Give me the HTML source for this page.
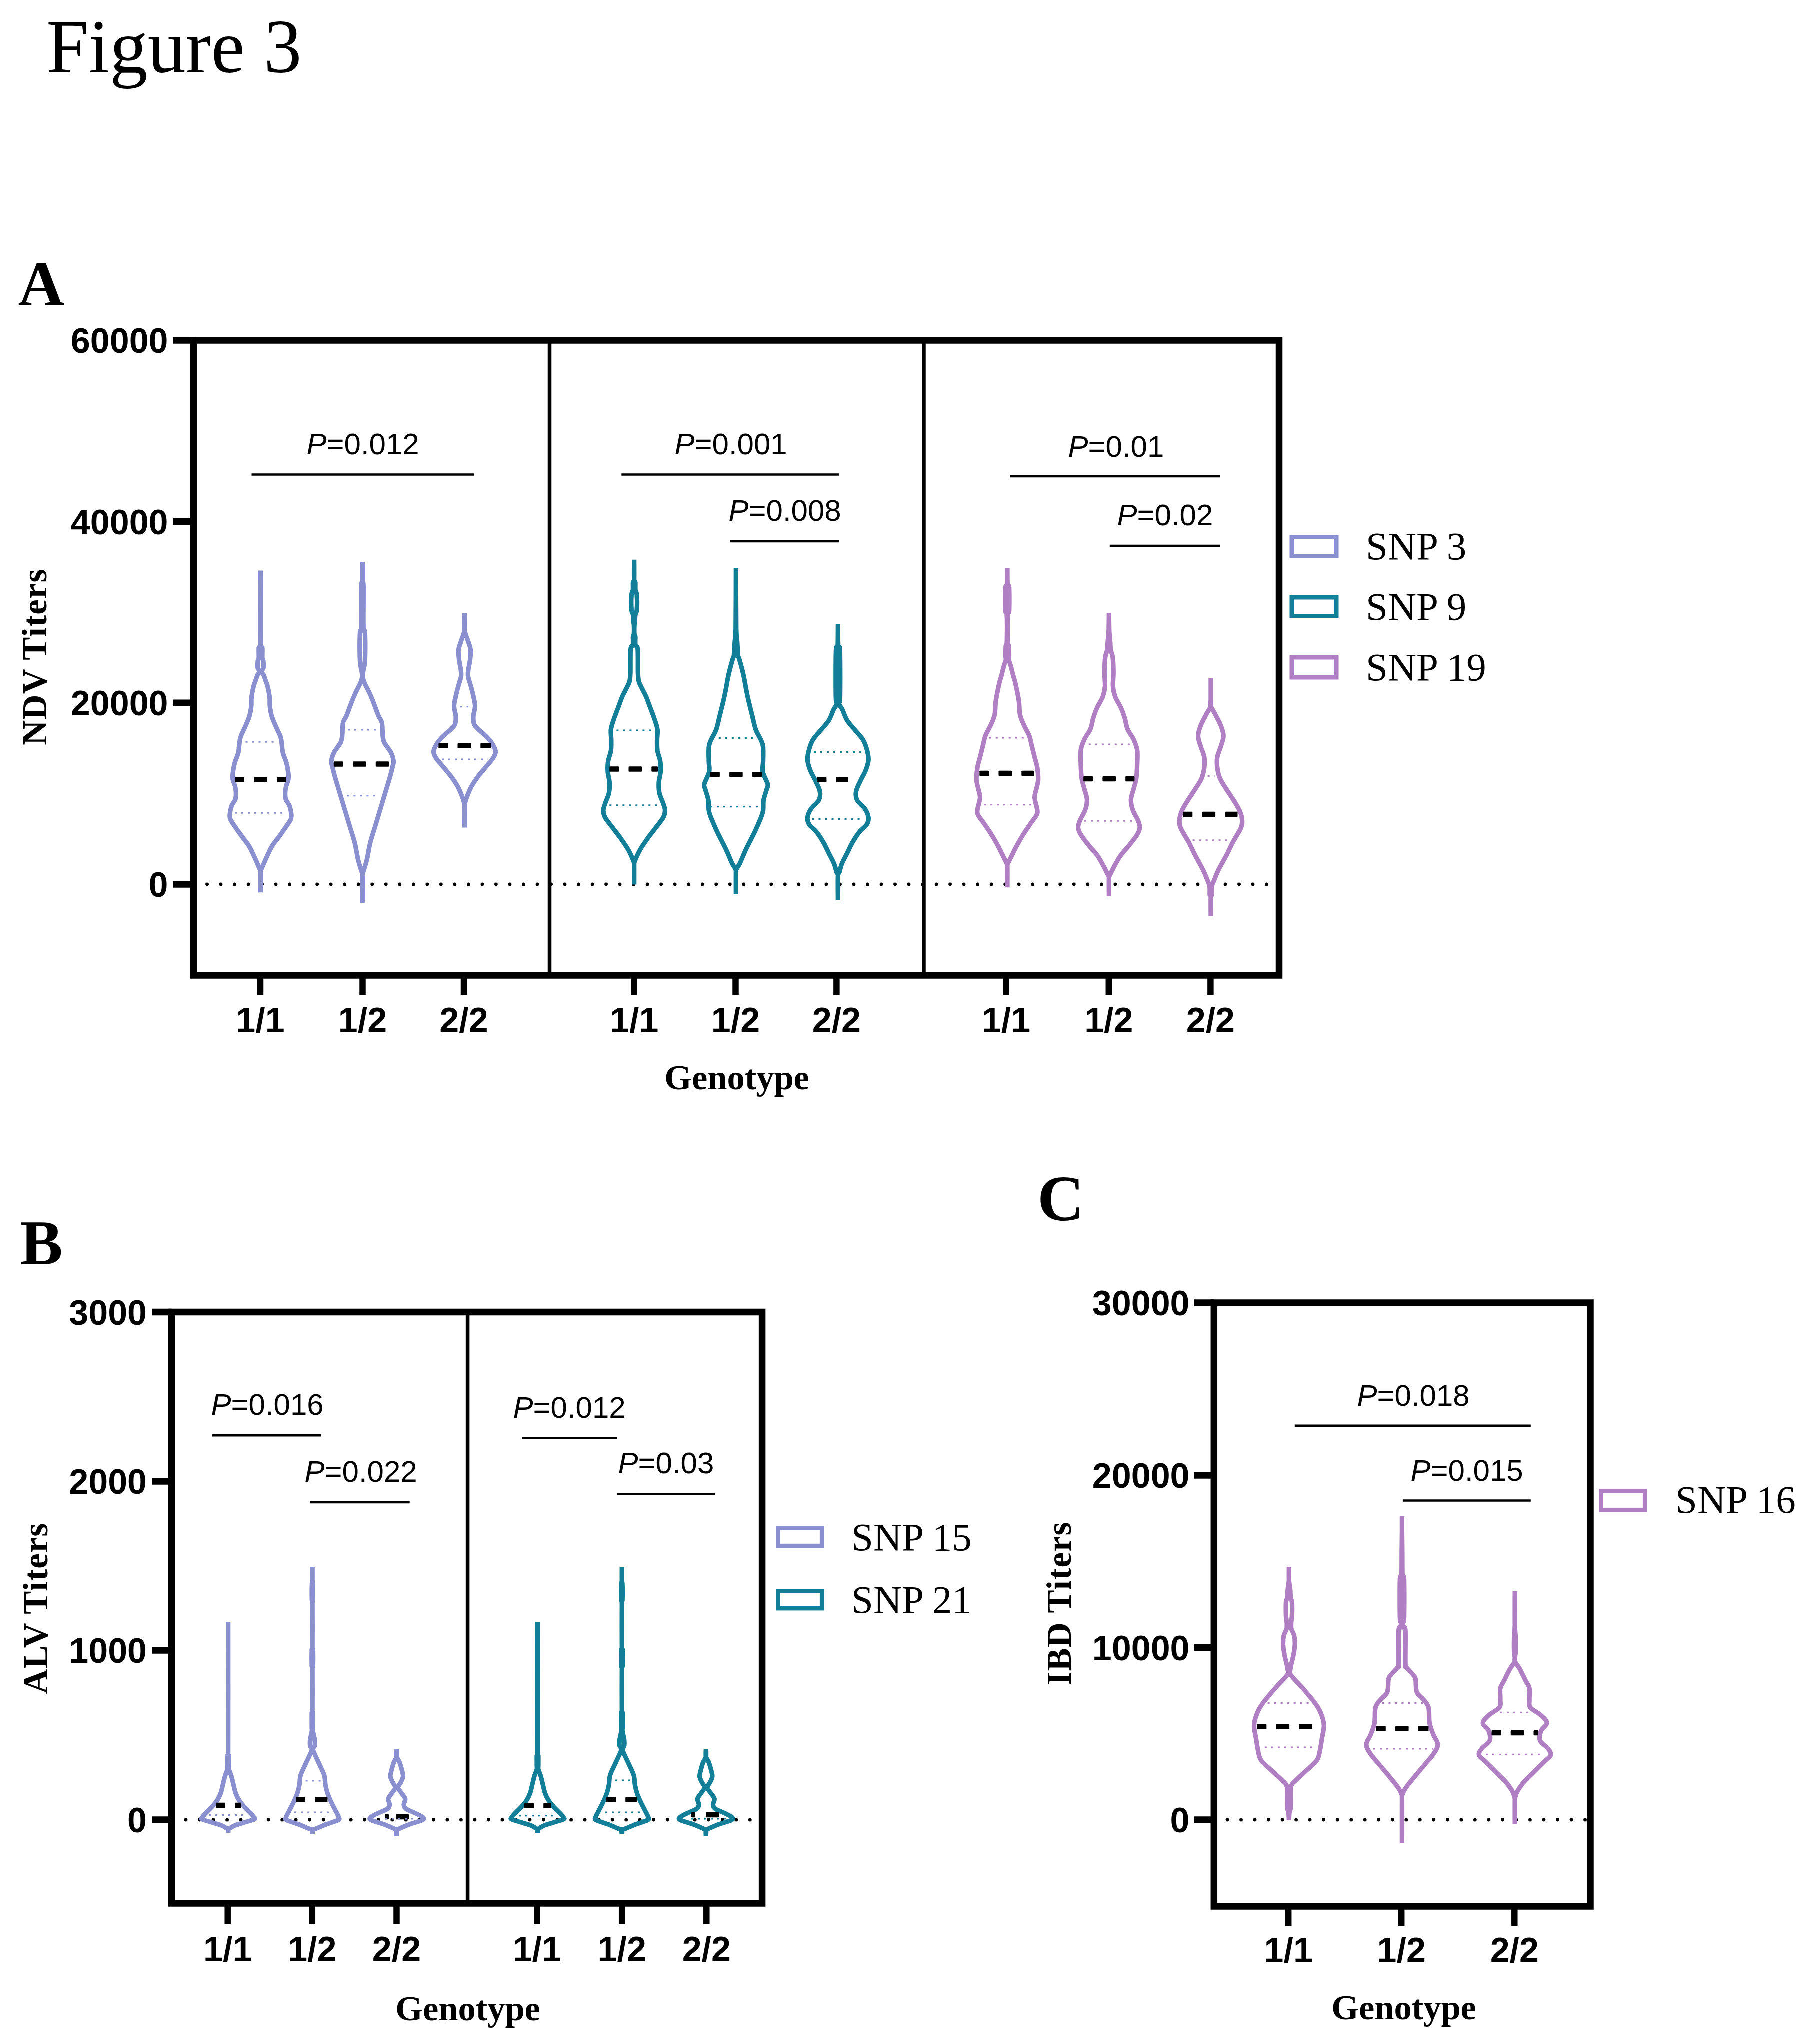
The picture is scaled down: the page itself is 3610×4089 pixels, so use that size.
<!DOCTYPE html>
<html><head><meta charset="utf-8"><title>Figure 3</title>
<style>
html,body{margin:0;padding:0;background:#fff;}
body{width:3610px;height:4089px;overflow:hidden;font-family:"Liberation Sans", sans-serif;}
svg{display:block;}
</style></head>
<body>
<svg width="3610" height="4089" viewBox="0 0 3610 4089">
<rect x="0" y="0" width="3610" height="4089" fill="#fff"/>
<text x="93" y="145" font-family="'Liberation Serif', serif" font-size="152" font-weight="normal" text-anchor="start" >Figure 3</text>
<text x="36.5" y="611" font-family="'Liberation Serif', serif" font-size="128" font-weight="bold" text-anchor="start" >A</text>
<text x="40.5" y="2529" font-family="'Liberation Serif', serif" font-size="128" font-weight="bold" text-anchor="start" >B</text>
<text x="2075" y="2441" font-family="'Liberation Serif', serif" font-size="130" font-weight="bold" text-anchor="start" >C</text>
<line x1="414.5" y1="1769" x2="2540" y2="1769" stroke="#000" stroke-width="6.8" stroke-linecap="round" stroke-dasharray="0.01 27.509999999999998"/>
<path d="M521.5,1141.6 C521.5,1166.5 520.9,1265.3 521.5,1291.0 C522.1,1316.7 524.4,1291.8 525.0,1296.0 C525.6,1300.2 524.7,1311.7 525.0,1316.0 C525.3,1320.3 526.7,1318.5 527.0,1322.0 C527.3,1325.5 527.8,1333.5 527.0,1337.0 C526.2,1340.5 522.4,1340.8 522.5,1343.0 C522.6,1345.2 526.1,1347.2 527.5,1350.0 C528.9,1352.8 529.7,1356.2 531.0,1360.0 C532.3,1363.8 534.1,1367.1 535.5,1372.8 C536.9,1378.5 538.7,1387.3 539.5,1394.0 C540.3,1400.7 539.4,1406.3 540.1,1412.7 C540.8,1419.1 541.8,1425.9 543.8,1432.6 C545.8,1439.2 548.9,1445.9 551.8,1452.6 C554.6,1459.2 558.9,1467.0 560.9,1472.5 C562.9,1478.0 562.8,1480.4 563.7,1485.9 C564.6,1491.5 564.5,1499.2 566.1,1505.8 C567.7,1512.4 571.3,1519.1 573.1,1525.8 C574.9,1532.5 576.2,1540.2 576.9,1545.7 C577.6,1551.2 577.8,1554.6 577.1,1559.0 C576.4,1563.4 573.8,1567.9 572.7,1572.3 C571.6,1576.7 570.8,1581.1 570.7,1585.6 C570.6,1590.0 570.5,1594.6 572.0,1599.0 C573.5,1603.4 577.7,1607.2 579.5,1612.2 C581.3,1617.2 582.6,1624.5 583.0,1628.9 C583.4,1633.3 583.5,1634.9 582.0,1638.8 C580.5,1642.7 577.4,1646.6 573.7,1652.1 C570.0,1657.6 564.5,1665.3 559.7,1672.0 C554.9,1678.7 548.9,1685.3 544.8,1692.0 C540.6,1698.7 537.7,1705.9 534.8,1712.0 C531.9,1718.1 529.4,1724.2 527.5,1728.6 C525.6,1733.0 524.2,1735.9 523.2,1738.6 C522.2,1741.3 521.8,1737.2 521.5,1745.0 C521.2,1752.8 521.5,1778.5 521.5,1785.2 C521.5,1778.5 521.8,1752.8 521.5,1745.0 C521.2,1737.2 520.8,1741.3 519.8,1738.6 C518.8,1735.9 517.4,1733.0 515.5,1728.6 C513.6,1724.2 511.1,1718.1 508.2,1712.0 C505.3,1705.9 502.3,1698.7 498.2,1692.0 C494.1,1685.3 488.1,1678.7 483.3,1672.0 C478.5,1665.3 473.0,1657.6 469.3,1652.1 C465.6,1646.6 462.6,1642.7 461.0,1638.8 C459.4,1634.9 459.6,1633.3 460.0,1628.9 C460.4,1624.5 461.7,1617.2 463.5,1612.2 C465.3,1607.2 469.5,1603.4 471.0,1599.0 C472.5,1594.6 472.4,1590.0 472.3,1585.6 C472.2,1581.1 471.4,1576.7 470.3,1572.3 C469.2,1567.9 466.6,1563.4 465.9,1559.0 C465.2,1554.6 465.4,1551.2 466.1,1545.7 C466.8,1540.2 468.1,1532.5 469.9,1525.8 C471.7,1519.1 475.3,1512.4 476.9,1505.8 C478.5,1499.2 478.4,1491.5 479.3,1485.9 C480.2,1480.4 480.1,1478.0 482.1,1472.5 C484.1,1467.0 488.4,1459.2 491.2,1452.6 C494.0,1445.9 497.2,1439.2 499.2,1432.6 C501.1,1425.9 502.2,1419.1 502.9,1412.7 C503.6,1406.3 502.7,1400.7 503.5,1394.0 C504.3,1387.3 506.1,1378.5 507.5,1372.8 C508.9,1367.1 510.7,1363.8 512.0,1360.0 C513.3,1356.2 514.1,1352.8 515.5,1350.0 C516.9,1347.2 520.4,1345.2 520.5,1343.0 C520.6,1340.8 516.8,1340.5 516.0,1337.0 C515.2,1333.5 515.7,1325.5 516.0,1322.0 C516.3,1318.5 517.7,1320.3 518.0,1316.0 C518.3,1311.7 517.4,1300.2 518.0,1296.0 C518.6,1291.8 520.9,1316.7 521.5,1291.0 C522.1,1265.3 521.5,1166.5 521.5,1141.6 Z" fill="none" stroke="#898fcf" stroke-width="9.2" stroke-linejoin="bevel"/>
<rect x="470.0" y="1554.45" width="19.0" height="10.5" rx="1.5" fill="#000"/>
<rect x="508.2" y="1554.45" width="26.6" height="10.5" rx="1.5" fill="#000"/>
<rect x="554.0" y="1554.45" width="19.0" height="10.5" rx="1.5" fill="#000"/>
<line x1="491.5" y1="1484.2" x2="553" y2="1484.2" stroke="#898fcf" stroke-width="3.2" stroke-dasharray="4 9"/>
<line x1="470" y1="1626.2" x2="573" y2="1626.2" stroke="#898fcf" stroke-width="3.2" stroke-dasharray="4 9"/>
<path d="M725.3,1125.0 C725.3,1131.7 725.0,1157.2 725.3,1165.0 C725.6,1172.8 727.0,1157.0 727.3,1172.0 C727.6,1187.0 726.8,1239.3 727.3,1255.0 C727.8,1270.7 729.8,1254.8 730.3,1266.0 C730.8,1277.2 730.8,1309.7 730.3,1322.0 C729.8,1334.3 728.0,1334.8 727.3,1340.0 C726.5,1345.2 725.5,1348.7 725.8,1353.0 C726.1,1357.3 727.0,1360.6 729.3,1366.1 C731.5,1371.6 736.2,1379.4 739.3,1386.1 C742.3,1392.8 744.5,1398.2 747.6,1406.0 C750.6,1413.8 754.8,1425.9 757.6,1432.6 C760.4,1439.2 762.8,1439.2 764.2,1445.9 C765.6,1452.6 765.1,1465.8 765.9,1472.5 C766.7,1479.2 766.4,1480.4 769.2,1485.9 C772.0,1491.5 779.5,1499.7 782.5,1505.8 C785.5,1511.9 787.0,1518.0 787.5,1522.4 C788.0,1526.8 786.9,1527.4 785.8,1532.4 C784.7,1537.4 783.3,1543.5 780.8,1552.4 C778.3,1561.3 774.2,1574.5 770.9,1585.6 C767.6,1596.7 764.2,1607.8 760.9,1618.9 C757.6,1630.0 754.2,1641.1 750.9,1652.2 C747.6,1663.3 743.7,1674.3 740.9,1685.4 C738.1,1696.5 736.5,1709.3 734.3,1718.7 C732.1,1728.1 729.1,1736.4 727.6,1741.9 C726.1,1747.4 725.7,1741.1 725.3,1751.9 C724.9,1762.8 725.3,1797.8 725.3,1807.0 C725.3,1797.8 725.7,1762.8 725.3,1751.9 C724.9,1741.1 724.5,1747.4 723.0,1741.9 C721.5,1736.4 718.5,1728.1 716.3,1718.7 C714.1,1709.3 712.5,1696.5 709.7,1685.4 C706.9,1674.3 703.0,1663.3 699.7,1652.2 C696.4,1641.1 693.0,1630.0 689.7,1618.9 C686.4,1607.8 683.0,1596.7 679.7,1585.6 C676.4,1574.5 672.3,1561.3 669.8,1552.4 C667.3,1543.5 665.9,1537.4 664.8,1532.4 C663.7,1527.4 662.5,1526.8 663.1,1522.4 C663.6,1518.0 665.0,1511.9 668.1,1505.8 C671.1,1499.7 678.6,1491.5 681.4,1485.9 C684.2,1480.4 683.9,1479.2 684.7,1472.5 C685.5,1465.8 685.0,1452.6 686.4,1445.9 C687.8,1439.2 690.2,1439.2 693.0,1432.6 C695.8,1425.9 700.0,1413.8 703.0,1406.0 C706.0,1398.2 708.2,1392.8 711.3,1386.1 C714.3,1379.4 719.0,1371.6 721.3,1366.1 C723.5,1360.6 724.5,1357.3 724.8,1353.0 C725.1,1348.7 724.0,1345.2 723.3,1340.0 C722.5,1334.8 720.8,1334.3 720.3,1322.0 C719.8,1309.7 719.8,1277.2 720.3,1266.0 C720.8,1254.8 722.8,1270.7 723.3,1255.0 C723.8,1239.3 723.0,1187.0 723.3,1172.0 C723.6,1157.0 725.0,1172.8 725.3,1165.0 C725.6,1157.2 725.3,1131.7 725.3,1125.0 Z" fill="none" stroke="#898fcf" stroke-width="9.2" stroke-linejoin="bevel"/>
<rect x="667.8" y="1523.15" width="19.0" height="10.5" rx="1.5" fill="#000"/>
<rect x="706.0" y="1523.15" width="26.6" height="10.5" rx="1.5" fill="#000"/>
<rect x="751.8" y="1523.15" width="26.6" height="10.5" rx="1.5" fill="#000"/>
<line x1="696" y1="1459.9" x2="759" y2="1459.9" stroke="#898fcf" stroke-width="3.2" stroke-dasharray="4 9"/>
<line x1="694.4" y1="1591.6" x2="756" y2="1591.6" stroke="#898fcf" stroke-width="3.2" stroke-dasharray="4 9"/>
<path d="M929.5,1226.4 C929.5,1232.0 928.5,1250.8 929.5,1259.7 C930.5,1268.6 933.5,1272.9 935.5,1279.6 C937.5,1286.2 940.7,1292.9 941.5,1299.6 C942.3,1306.3 941.2,1312.9 940.5,1319.6 C939.8,1326.2 937.8,1334.0 937.1,1339.5 C936.4,1345.0 935.7,1347.2 936.5,1352.8 C937.3,1358.3 940.3,1366.1 942.1,1372.8 C943.9,1379.5 945.7,1386.0 947.1,1392.7 C948.5,1399.4 950.5,1406.1 950.5,1412.7 C950.5,1419.3 947.4,1426.5 947.1,1432.6 C946.8,1438.7 947.1,1444.9 948.8,1449.3 C950.5,1453.7 953.2,1455.3 957.1,1459.2 C961.0,1463.1 967.7,1468.0 972.1,1472.5 C976.5,1477.0 980.5,1480.9 983.7,1485.9 C986.9,1490.9 990.9,1497.5 991.4,1502.5 C991.9,1507.5 990.0,1510.8 987.0,1515.8 C984.0,1520.8 978.7,1526.3 973.7,1532.4 C968.7,1538.5 962.1,1545.8 957.1,1552.4 C952.1,1559.1 947.5,1565.7 943.8,1572.3 C940.1,1578.9 937.0,1586.8 934.8,1592.3 C932.6,1597.8 931.4,1602.3 930.5,1605.6 C929.6,1608.9 929.7,1603.7 929.5,1612.0 C929.3,1620.3 929.5,1648.2 929.5,1655.5 C929.5,1648.2 929.7,1620.3 929.5,1612.0 C929.3,1603.7 929.4,1608.9 928.5,1605.6 C927.6,1602.3 926.4,1597.8 924.2,1592.3 C922.0,1586.8 918.9,1578.9 915.2,1572.3 C911.5,1565.7 906.9,1559.1 901.9,1552.4 C896.9,1545.8 890.3,1538.5 885.3,1532.4 C880.3,1526.3 875.0,1520.8 872.0,1515.8 C869.0,1510.8 867.1,1507.5 867.6,1502.5 C868.1,1497.5 872.1,1490.9 875.3,1485.9 C878.5,1480.9 882.5,1477.0 886.9,1472.5 C891.3,1468.0 898.0,1463.1 901.9,1459.2 C905.8,1455.3 908.5,1453.7 910.2,1449.3 C911.9,1444.9 912.2,1438.7 911.9,1432.6 C911.6,1426.5 908.5,1419.3 908.5,1412.7 C908.5,1406.1 910.5,1399.4 911.9,1392.7 C913.3,1386.0 915.1,1379.5 916.9,1372.8 C918.7,1366.1 921.7,1358.3 922.5,1352.8 C923.3,1347.2 922.6,1345.0 921.9,1339.5 C921.2,1334.0 919.2,1326.2 918.5,1319.6 C917.8,1312.9 916.7,1306.3 917.5,1299.6 C918.3,1292.9 921.5,1286.2 923.5,1279.6 C925.5,1272.9 928.5,1268.6 929.5,1259.7 C930.5,1250.8 929.5,1232.0 929.5,1226.4 Z" fill="none" stroke="#898fcf" stroke-width="9.2" stroke-linejoin="bevel"/>
<rect x="877.3" y="1486.55" width="19.0" height="10.5" rx="1.5" fill="#000"/>
<rect x="915.5" y="1486.55" width="26.6" height="10.5" rx="1.5" fill="#000"/>
<rect x="961.3" y="1486.55" width="20.8" height="10.5" rx="1.5" fill="#000"/>
<line x1="920.5" y1="1413.7" x2="937" y2="1413.7" stroke="#898fcf" stroke-width="3.2" stroke-dasharray="4 9"/>
<line x1="884" y1="1519" x2="975.4" y2="1519" stroke="#898fcf" stroke-width="3.2" stroke-dasharray="4 9"/>
<path d="M1268.7,1119.8 C1268.7,1126.2 1268.3,1150.5 1268.7,1158.0 C1269.1,1165.5 1270.6,1161.3 1271.0,1165.0 C1271.4,1168.7 1270.7,1175.8 1271.2,1180.0 C1271.7,1184.2 1273.5,1183.3 1274.0,1190.0 C1274.5,1196.7 1274.5,1213.3 1274.0,1220.0 C1273.5,1226.7 1271.6,1226.0 1271.0,1230.0 C1270.4,1234.0 1270.5,1240.7 1270.2,1244.0 C1269.9,1247.3 1269.4,1246.0 1269.2,1250.0 C1269.0,1254.0 1268.9,1264.0 1269.2,1268.0 C1269.5,1272.0 1270.7,1270.3 1271.0,1274.0 C1271.3,1277.7 1270.4,1286.0 1271.2,1290.0 C1272.0,1294.0 1274.9,1289.7 1275.7,1298.0 C1276.5,1306.3 1276.1,1331.3 1276.2,1340.0 C1276.3,1348.7 1276.2,1346.0 1276.5,1350.0 C1276.8,1354.0 1276.5,1358.7 1278.2,1364.0 C1279.9,1369.3 1284.3,1376.9 1286.7,1381.9 C1289.1,1386.9 1290.7,1389.3 1292.7,1394.0 C1294.7,1398.7 1296.0,1402.6 1298.7,1410.0 C1301.5,1417.4 1306.5,1430.0 1309.2,1438.2 C1312.0,1446.4 1314.3,1452.4 1315.2,1459.4 C1316.1,1466.5 1314.5,1473.5 1314.5,1480.5 C1314.5,1487.5 1314.2,1494.5 1315.2,1501.6 C1316.2,1508.6 1319.8,1515.8 1320.8,1522.8 C1321.8,1529.8 1322.0,1536.9 1321.5,1543.9 C1321.0,1551.0 1318.4,1558.0 1318.0,1565.1 C1317.6,1572.1 1317.6,1579.2 1319.1,1586.2 C1320.6,1593.2 1324.9,1601.4 1326.8,1607.3 C1328.7,1613.2 1330.4,1616.7 1330.4,1621.4 C1330.4,1626.1 1330.0,1629.6 1326.8,1635.5 C1323.6,1641.4 1316.3,1649.7 1311.0,1656.7 C1305.7,1663.8 1300.1,1670.8 1295.1,1677.8 C1290.1,1684.8 1284.5,1693.1 1281.0,1699.0 C1277.5,1704.9 1275.9,1708.9 1274.0,1713.0 C1272.1,1717.1 1270.6,1720.8 1269.7,1723.6 C1268.8,1726.4 1268.9,1722.4 1268.7,1730.0 C1268.5,1737.6 1268.7,1762.8 1268.7,1769.4 C1268.7,1762.8 1268.9,1737.6 1268.7,1730.0 C1268.5,1722.4 1268.6,1726.4 1267.7,1723.6 C1266.8,1720.8 1265.3,1717.1 1263.4,1713.0 C1261.5,1708.9 1259.9,1704.9 1256.4,1699.0 C1252.9,1693.1 1247.3,1684.8 1242.3,1677.8 C1237.3,1670.8 1231.7,1663.8 1226.4,1656.7 C1221.1,1649.7 1213.8,1641.4 1210.6,1635.5 C1207.4,1629.6 1207.0,1626.1 1207.0,1621.4 C1207.0,1616.7 1208.7,1613.2 1210.6,1607.3 C1212.5,1601.4 1216.8,1593.2 1218.3,1586.2 C1219.8,1579.2 1219.8,1572.1 1219.4,1565.1 C1219.0,1558.0 1216.4,1551.0 1215.9,1543.9 C1215.4,1536.9 1215.6,1529.8 1216.6,1522.8 C1217.7,1515.8 1221.2,1508.6 1222.2,1501.6 C1223.2,1494.5 1222.9,1487.5 1222.9,1480.5 C1222.9,1473.5 1221.3,1466.5 1222.2,1459.4 C1223.1,1452.4 1225.5,1446.4 1228.2,1438.2 C1231.0,1430.0 1236.0,1417.4 1238.7,1410.0 C1241.5,1402.6 1242.7,1398.7 1244.7,1394.0 C1246.7,1389.3 1248.3,1386.9 1250.7,1381.9 C1253.1,1376.9 1257.5,1369.3 1259.2,1364.0 C1260.9,1358.7 1260.6,1354.0 1260.9,1350.0 C1261.2,1346.0 1261.1,1348.7 1261.2,1340.0 C1261.3,1331.3 1260.9,1306.3 1261.7,1298.0 C1262.5,1289.7 1265.4,1294.0 1266.2,1290.0 C1267.0,1286.0 1266.1,1277.7 1266.4,1274.0 C1266.7,1270.3 1267.9,1272.0 1268.2,1268.0 C1268.5,1264.0 1268.4,1254.0 1268.2,1250.0 C1268.0,1246.0 1267.5,1247.3 1267.2,1244.0 C1266.9,1240.7 1267.0,1234.0 1266.4,1230.0 C1265.8,1226.0 1263.9,1226.7 1263.4,1220.0 C1262.9,1213.3 1262.9,1196.7 1263.4,1190.0 C1263.9,1183.3 1265.7,1184.2 1266.2,1180.0 C1266.7,1175.8 1266.0,1168.7 1266.4,1165.0 C1266.8,1161.3 1268.3,1165.5 1268.7,1158.0 C1269.1,1150.5 1268.7,1126.2 1268.7,1119.8 Z" fill="none" stroke="#137e97" stroke-width="9.2" stroke-linejoin="bevel"/>
<rect x="1219.3" y="1533.35" width="19.0" height="10.5" rx="1.5" fill="#000"/>
<rect x="1257.5" y="1533.35" width="26.6" height="10.5" rx="1.5" fill="#000"/>
<rect x="1303.3" y="1533.35" width="12.9" height="10.5" rx="1.5" fill="#000"/>
<line x1="1233.4" y1="1461.1" x2="1305.6" y2="1461.1" stroke="#137e97" stroke-width="3.2" stroke-dasharray="4 9"/>
<line x1="1219.3" y1="1610.9" x2="1321.5" y2="1610.9" stroke="#137e97" stroke-width="3.2" stroke-dasharray="4 9"/>
<path d="M1472.3,1137.0 C1472.4,1156.7 1472.4,1230.3 1472.8,1255.0 C1473.2,1279.7 1474.3,1276.7 1474.8,1285.0 C1475.3,1293.3 1475.7,1300.5 1476.0,1305.0 C1476.3,1309.5 1476.0,1309.6 1476.5,1312.0 C1477.0,1314.4 1477.7,1314.7 1479.1,1319.4 C1480.5,1324.1 1483.1,1333.3 1484.8,1340.0 C1486.5,1346.7 1487.8,1352.6 1489.1,1359.3 C1490.4,1366.0 1491.4,1372.7 1492.8,1380.0 C1494.2,1387.3 1495.7,1394.5 1497.7,1403.0 C1499.7,1411.5 1502.4,1421.8 1504.7,1431.2 C1507.0,1440.6 1508.9,1451.2 1511.8,1459.4 C1514.7,1467.6 1519.8,1474.6 1522.3,1480.5 C1524.8,1486.4 1525.9,1487.5 1526.6,1494.6 C1527.3,1501.6 1526.7,1514.6 1526.6,1522.8 C1526.5,1531.0 1524.4,1536.3 1525.9,1543.9 C1527.4,1551.5 1534.4,1562.7 1535.7,1568.6 C1537.0,1574.5 1534.9,1573.9 1533.6,1579.2 C1532.2,1584.5 1528.8,1593.3 1527.6,1600.3 C1526.4,1607.3 1527.5,1615.5 1526.6,1621.4 C1525.7,1627.3 1525.1,1628.5 1522.3,1635.5 C1519.5,1642.5 1515.0,1653.1 1510.0,1663.7 C1505.0,1674.3 1497.3,1688.4 1492.3,1699.0 C1487.3,1709.6 1483.2,1720.6 1480.1,1727.1 C1477.0,1733.5 1475.0,1734.7 1473.7,1737.7 C1472.4,1740.7 1472.5,1736.5 1472.3,1745.0 C1472.1,1753.5 1472.3,1781.5 1472.3,1788.8 C1472.3,1781.5 1472.5,1753.5 1472.3,1745.0 C1472.1,1736.5 1472.2,1740.7 1470.9,1737.7 C1469.6,1734.7 1467.6,1733.5 1464.5,1727.1 C1461.4,1720.6 1457.3,1709.6 1452.3,1699.0 C1447.3,1688.4 1439.6,1674.3 1434.6,1663.7 C1429.6,1653.1 1425.1,1642.5 1422.3,1635.5 C1419.5,1628.5 1418.9,1627.3 1418.0,1621.4 C1417.1,1615.5 1418.2,1607.3 1417.0,1600.3 C1415.8,1593.3 1412.3,1584.5 1411.0,1579.2 C1409.7,1573.9 1407.6,1574.5 1408.9,1568.6 C1410.2,1562.7 1417.2,1551.5 1418.7,1543.9 C1420.2,1536.3 1418.1,1531.0 1418.0,1522.8 C1417.9,1514.6 1417.3,1501.6 1418.0,1494.6 C1418.7,1487.5 1419.8,1486.4 1422.3,1480.5 C1424.8,1474.6 1429.9,1467.6 1432.8,1459.4 C1435.7,1451.2 1437.5,1440.6 1439.9,1431.2 C1442.2,1421.8 1444.9,1411.5 1446.9,1403.0 C1448.9,1394.5 1450.4,1387.3 1451.8,1380.0 C1453.2,1372.7 1454.2,1366.0 1455.5,1359.3 C1456.8,1352.6 1458.1,1346.7 1459.8,1340.0 C1461.5,1333.3 1464.1,1324.1 1465.5,1319.4 C1466.9,1314.7 1467.6,1314.4 1468.1,1312.0 C1468.6,1309.6 1468.3,1309.5 1468.6,1305.0 C1468.9,1300.5 1469.3,1293.3 1469.8,1285.0 C1470.3,1276.7 1471.4,1279.7 1471.8,1255.0 C1472.2,1230.3 1472.2,1156.7 1472.3,1137.0 Z" fill="none" stroke="#137e97" stroke-width="9.2" stroke-linejoin="bevel"/>
<rect x="1420.9" y="1543.95" width="19.0" height="10.5" rx="1.5" fill="#000"/>
<rect x="1459.1" y="1543.95" width="26.6" height="10.5" rx="1.5" fill="#000"/>
<rect x="1504.9" y="1543.95" width="19.2" height="10.5" rx="1.5" fill="#000"/>
<line x1="1437.8" y1="1476.3" x2="1511.8" y2="1476.3" stroke="#137e97" stroke-width="3.2" stroke-dasharray="4 9"/>
<line x1="1420.9" y1="1613.7" x2="1517" y2="1613.7" stroke="#137e97" stroke-width="3.2" stroke-dasharray="4 9"/>
<path d="M1676.3,1248.6 C1676.4,1256.0 1676.2,1284.1 1676.9,1293.0 C1677.6,1301.9 1679.7,1285.0 1680.3,1302.0 C1680.9,1319.0 1680.9,1377.5 1680.5,1395.0 C1680.1,1412.5 1677.1,1403.0 1677.8,1407.0 C1678.5,1411.0 1681.9,1413.2 1684.8,1419.0 C1687.7,1424.8 1690.4,1434.5 1695.0,1441.8 C1699.6,1449.1 1707.3,1456.5 1712.6,1462.9 C1717.9,1469.4 1723.2,1474.6 1726.7,1480.5 C1730.2,1486.4 1731.9,1491.6 1733.7,1498.1 C1735.5,1504.6 1737.6,1512.2 1737.3,1519.3 C1737.0,1526.3 1734.7,1533.4 1732.0,1540.4 C1729.3,1547.5 1724.6,1554.5 1721.4,1561.6 C1718.2,1568.6 1713.8,1576.2 1712.6,1582.7 C1711.4,1589.2 1711.4,1594.4 1714.3,1600.3 C1717.2,1606.2 1726.4,1612.0 1730.2,1617.9 C1734.0,1623.8 1736.7,1630.2 1737.3,1635.5 C1737.9,1640.8 1736.7,1644.9 1733.7,1649.6 C1730.8,1654.3 1724.3,1657.8 1719.6,1663.7 C1714.9,1669.6 1709.6,1677.9 1705.5,1684.9 C1701.4,1692.0 1698.5,1699.0 1695.0,1706.0 C1691.5,1713.0 1687.0,1720.6 1684.4,1727.1 C1681.7,1733.6 1680.4,1740.7 1679.1,1744.8 C1677.8,1748.9 1676.8,1742.4 1676.3,1751.8 C1675.8,1761.2 1676.3,1792.9 1676.3,1801.1 C1676.3,1792.9 1676.8,1761.2 1676.3,1751.8 C1675.8,1742.4 1674.8,1748.9 1673.5,1744.8 C1672.2,1740.7 1670.9,1733.6 1668.2,1727.1 C1665.5,1720.6 1661.1,1713.0 1657.6,1706.0 C1654.1,1699.0 1651.2,1692.0 1647.1,1684.9 C1643.0,1677.9 1637.7,1669.6 1633.0,1663.7 C1628.3,1657.8 1621.8,1654.3 1618.9,1649.6 C1615.9,1644.9 1614.7,1640.8 1615.3,1635.5 C1615.9,1630.2 1618.6,1623.8 1622.4,1617.9 C1626.2,1612.0 1635.4,1606.2 1638.3,1600.3 C1641.2,1594.4 1641.2,1589.2 1640.0,1582.7 C1638.8,1576.2 1634.4,1568.6 1631.2,1561.6 C1628.0,1554.5 1623.2,1547.5 1620.6,1540.4 C1617.9,1533.4 1615.6,1526.3 1615.3,1519.3 C1615.0,1512.2 1617.1,1504.6 1618.9,1498.1 C1620.7,1491.6 1622.4,1486.4 1625.9,1480.5 C1629.4,1474.6 1634.7,1469.4 1640.0,1462.9 C1645.3,1456.5 1653.0,1449.1 1657.6,1441.8 C1662.2,1434.5 1664.9,1424.8 1667.8,1419.0 C1670.7,1413.2 1674.1,1411.0 1674.8,1407.0 C1675.5,1403.0 1672.5,1412.5 1672.1,1395.0 C1671.7,1377.5 1671.7,1319.0 1672.3,1302.0 C1672.9,1285.0 1675.0,1301.9 1675.7,1293.0 C1676.4,1284.1 1676.2,1256.0 1676.3,1248.6 Z" fill="none" stroke="#137e97" stroke-width="9.2" stroke-linejoin="bevel"/>
<rect x="1634.4" y="1554.55" width="19.0" height="10.5" rx="1.5" fill="#000"/>
<rect x="1672.6" y="1554.55" width="24.1" height="10.5" rx="1.5" fill="#000"/>
<line x1="1628" y1="1504.5" x2="1728.4" y2="1504.5" stroke="#137e97" stroke-width="3.2" stroke-dasharray="4 9"/>
<line x1="1624.5" y1="1638.3" x2="1724.9" y2="1638.3" stroke="#137e97" stroke-width="3.2" stroke-dasharray="4 9"/>
<path d="M2015.0,1136.0 C2015.1,1141.3 2014.9,1161.3 2015.5,1168.0 C2016.1,1174.7 2018.2,1167.0 2018.7,1176.0 C2019.2,1185.0 2019.2,1213.0 2018.7,1222.0 C2018.2,1231.0 2016.5,1219.5 2016.0,1230.0 C2015.5,1240.5 2015.7,1274.7 2016.0,1285.0 C2016.3,1295.3 2017.6,1287.5 2018.0,1292.0 C2018.4,1296.5 2018.5,1307.3 2018.5,1312.0 C2018.5,1316.7 2017.4,1316.5 2018.0,1320.0 C2018.6,1323.5 2020.5,1327.3 2022.0,1332.7 C2023.5,1338.1 2025.4,1346.6 2027.0,1352.5 C2028.6,1358.4 2029.6,1359.8 2031.4,1368.0 C2033.2,1376.2 2036.5,1391.6 2038.0,1401.9 C2039.5,1412.2 2038.7,1421.8 2040.4,1430.0 C2042.2,1438.2 2045.4,1444.2 2048.5,1451.2 C2051.6,1458.2 2056.4,1465.2 2059.0,1472.3 C2061.6,1479.3 2062.5,1486.5 2064.3,1493.5 C2066.1,1500.5 2067.8,1507.6 2069.6,1514.6 C2071.4,1521.6 2073.7,1528.1 2074.9,1535.7 C2076.1,1543.3 2077.0,1553.4 2076.7,1560.4 C2076.4,1567.5 2074.3,1572.1 2073.1,1578.0 C2071.9,1583.9 2069.3,1588.5 2069.6,1595.6 C2069.9,1602.6 2074.3,1614.4 2074.9,1620.3 C2075.5,1626.2 2075.4,1626.2 2073.1,1630.9 C2070.8,1635.6 2065.2,1642.0 2060.8,1648.5 C2056.4,1655.0 2051.1,1662.5 2046.7,1669.6 C2042.3,1676.6 2038.2,1683.8 2034.4,1690.8 C2030.6,1697.8 2026.7,1706.0 2023.8,1711.9 C2020.9,1717.8 2018.3,1722.7 2016.8,1726.0 C2015.3,1729.3 2015.3,1723.8 2015.0,1732.0 C2014.7,1740.2 2015.0,1768.1 2015.0,1775.3 C2015.0,1768.1 2015.3,1740.2 2015.0,1732.0 C2014.7,1723.8 2014.7,1729.3 2013.2,1726.0 C2011.7,1722.7 2009.1,1717.8 2006.2,1711.9 C2003.3,1706.0 1999.4,1697.8 1995.6,1690.8 C1991.8,1683.8 1987.7,1676.6 1983.3,1669.6 C1978.9,1662.5 1973.6,1655.0 1969.2,1648.5 C1964.8,1642.0 1959.2,1635.6 1956.9,1630.9 C1954.6,1626.2 1954.5,1626.2 1955.1,1620.3 C1955.7,1614.4 1960.1,1602.6 1960.4,1595.6 C1960.7,1588.5 1958.1,1583.9 1956.9,1578.0 C1955.7,1572.1 1953.6,1567.5 1953.3,1560.4 C1953.0,1553.4 1953.9,1543.3 1955.1,1535.7 C1956.3,1528.1 1958.6,1521.6 1960.4,1514.6 C1962.2,1507.6 1963.9,1500.5 1965.7,1493.5 C1967.5,1486.5 1968.4,1479.3 1971.0,1472.3 C1973.6,1465.2 1978.4,1458.2 1981.5,1451.2 C1984.6,1444.2 1987.8,1438.2 1989.6,1430.0 C1991.3,1421.8 1990.5,1412.2 1992.0,1401.9 C1993.5,1391.6 1996.8,1376.2 1998.6,1368.0 C2000.4,1359.8 2001.4,1358.4 2003.0,1352.5 C2004.6,1346.6 2006.5,1338.1 2008.0,1332.7 C2009.5,1327.3 2011.4,1323.5 2012.0,1320.0 C2012.6,1316.5 2011.5,1316.7 2011.5,1312.0 C2011.5,1307.3 2011.6,1296.5 2012.0,1292.0 C2012.4,1287.5 2013.7,1295.3 2014.0,1285.0 C2014.3,1274.7 2014.5,1240.5 2014.0,1230.0 C2013.5,1219.5 2011.8,1231.0 2011.3,1222.0 C2010.8,1213.0 2010.8,1185.0 2011.3,1176.0 C2011.8,1167.0 2013.9,1174.7 2014.5,1168.0 C2015.1,1161.3 2014.9,1141.3 2015.0,1136.0 Z" fill="none" stroke="#b07fc3" stroke-width="9.2" stroke-linejoin="bevel"/>
<rect x="1959.3" y="1541.75" width="19.0" height="10.5" rx="1.5" fill="#000"/>
<rect x="1997.5" y="1541.75" width="26.6" height="10.5" rx="1.5" fill="#000"/>
<rect x="2043.3" y="1541.75" width="25.2" height="10.5" rx="1.5" fill="#000"/>
<line x1="1978.7" y1="1475.8" x2="2054.5" y2="1475.8" stroke="#b07fc3" stroke-width="3.2" stroke-dasharray="4 9"/>
<line x1="1968.1" y1="1609.7" x2="2065" y2="1609.7" stroke="#b07fc3" stroke-width="3.2" stroke-dasharray="4 9"/>
<path d="M2218.3,1226.4 C2218.4,1232.3 2218.5,1252.2 2218.9,1262.0 C2219.3,1271.8 2220.3,1278.7 2220.8,1285.0 C2221.3,1291.3 2221.0,1295.0 2221.8,1300.0 C2222.6,1305.0 2224.9,1307.5 2225.8,1315.0 C2226.7,1322.5 2227.2,1335.2 2227.3,1345.0 C2227.4,1354.8 2225.7,1365.4 2226.3,1373.7 C2226.9,1382.0 2228.4,1387.8 2231.1,1394.8 C2233.8,1401.8 2239.2,1409.0 2242.3,1416.0 C2245.5,1423.0 2247.8,1430.1 2250.0,1437.1 C2252.2,1444.1 2252.4,1451.2 2255.3,1458.2 C2258.2,1465.2 2264.4,1472.4 2267.6,1479.4 C2270.8,1486.5 2273.5,1492.3 2274.7,1500.5 C2275.9,1508.7 2275.0,1519.3 2274.7,1528.7 C2274.4,1538.1 2274.1,1548.7 2272.9,1556.9 C2271.7,1565.1 2269.4,1571.0 2267.6,1578.0 C2265.8,1585.0 2262.6,1592.2 2262.3,1599.2 C2262.0,1606.2 2263.6,1613.3 2265.9,1620.3 C2268.2,1627.3 2274.1,1635.5 2276.4,1641.4 C2278.8,1647.3 2280.3,1650.8 2280.0,1655.5 C2279.7,1660.2 2278.2,1663.7 2274.7,1669.6 C2271.2,1675.5 2264.4,1683.8 2258.8,1690.8 C2253.2,1697.8 2246.2,1704.9 2241.2,1711.9 C2236.2,1718.9 2232.4,1726.5 2228.9,1733.0 C2225.4,1739.5 2221.9,1746.9 2220.1,1750.7 C2218.3,1754.5 2218.6,1749.0 2218.3,1756.0 C2218.0,1763.0 2218.3,1786.8 2218.3,1793.0 C2218.3,1786.8 2218.6,1763.0 2218.3,1756.0 C2218.0,1749.0 2218.3,1754.5 2216.5,1750.7 C2214.7,1746.9 2211.2,1739.5 2207.7,1733.0 C2204.2,1726.5 2200.4,1718.9 2195.4,1711.9 C2190.4,1704.9 2183.4,1697.8 2177.8,1690.8 C2172.2,1683.8 2165.4,1675.5 2161.9,1669.6 C2158.4,1663.7 2156.9,1660.2 2156.6,1655.5 C2156.3,1650.8 2157.9,1647.3 2160.2,1641.4 C2162.6,1635.5 2168.4,1627.3 2170.7,1620.3 C2173.1,1613.3 2174.6,1606.2 2174.3,1599.2 C2174.0,1592.2 2170.8,1585.0 2169.0,1578.0 C2167.2,1571.0 2164.9,1565.1 2163.7,1556.9 C2162.5,1548.7 2162.2,1538.1 2161.9,1528.7 C2161.6,1519.3 2160.7,1508.7 2161.9,1500.5 C2163.1,1492.3 2165.8,1486.5 2169.0,1479.4 C2172.2,1472.4 2178.4,1465.2 2181.3,1458.2 C2184.2,1451.2 2184.4,1444.1 2186.6,1437.1 C2188.8,1430.1 2191.2,1423.0 2194.3,1416.0 C2197.5,1409.0 2202.8,1401.8 2205.5,1394.8 C2208.2,1387.8 2209.7,1382.0 2210.3,1373.7 C2210.9,1365.4 2209.2,1354.8 2209.3,1345.0 C2209.4,1335.2 2209.9,1322.5 2210.8,1315.0 C2211.7,1307.5 2214.0,1305.0 2214.8,1300.0 C2215.6,1295.0 2215.3,1291.3 2215.8,1285.0 C2216.3,1278.7 2217.3,1271.8 2217.7,1262.0 C2218.1,1252.2 2218.2,1232.3 2218.3,1226.4 Z" fill="none" stroke="#b07fc3" stroke-width="9.2" stroke-linejoin="bevel"/>
<rect x="2167.2" y="1552.65" width="19.0" height="10.5" rx="1.5" fill="#000"/>
<rect x="2205.4" y="1552.65" width="26.6" height="10.5" rx="1.5" fill="#000"/>
<rect x="2251.2" y="1552.65" width="18.2" height="10.5" rx="1.5" fill="#000"/>
<line x1="2177.8" y1="1489.2" x2="2269.4" y2="1489.2" stroke="#b07fc3" stroke-width="3.2" stroke-dasharray="4 9"/>
<line x1="2169" y1="1642.1" x2="2269.4" y2="1642.1" stroke="#b07fc3" stroke-width="3.2" stroke-dasharray="4 9"/>
<path d="M2421.9,1356.1 C2421.9,1363.1 2421.9,1388.9 2421.9,1398.3 C2421.9,1407.7 2420.3,1407.1 2421.9,1412.4 C2423.5,1417.7 2428.1,1423.5 2431.4,1430.0 C2434.7,1436.5 2439.2,1444.2 2441.9,1451.2 C2444.6,1458.2 2447.3,1465.2 2447.3,1472.3 C2447.3,1479.3 2444.0,1486.5 2441.9,1493.5 C2439.8,1500.5 2436.1,1507.6 2434.9,1514.6 C2433.7,1521.6 2434.0,1528.7 2434.9,1535.7 C2435.8,1542.8 2437.3,1549.9 2440.2,1556.9 C2443.2,1564.0 2448.2,1571.0 2452.6,1578.0 C2457.0,1585.0 2462.2,1592.2 2466.6,1599.2 C2471.0,1606.2 2476.1,1613.8 2479.0,1620.3 C2481.9,1626.8 2483.7,1632.0 2484.3,1637.9 C2484.9,1643.8 2485.4,1647.9 2482.5,1655.5 C2479.6,1663.1 2471.6,1674.3 2466.6,1683.7 C2461.6,1693.1 2457.5,1702.5 2452.6,1711.9 C2447.7,1721.3 2441.3,1732.1 2437.4,1740.1 C2433.5,1748.1 2431.0,1755.0 2428.9,1760.0 C2426.8,1765.0 2425.7,1767.0 2424.9,1770.0 C2424.1,1773.0 2424.1,1774.7 2423.9,1778.0 C2423.7,1781.3 2424.2,1787.2 2423.9,1790.0 C2423.6,1792.8 2422.2,1787.8 2421.9,1795.0 C2421.6,1802.2 2421.9,1826.7 2421.9,1833.0 C2421.9,1826.7 2422.2,1802.2 2421.9,1795.0 C2421.6,1787.8 2420.2,1792.8 2419.9,1790.0 C2419.6,1787.2 2420.1,1781.3 2419.9,1778.0 C2419.7,1774.7 2419.7,1773.0 2418.9,1770.0 C2418.1,1767.0 2417.0,1765.0 2414.9,1760.0 C2412.8,1755.0 2410.3,1748.1 2406.4,1740.1 C2402.5,1732.1 2396.1,1721.3 2391.2,1711.9 C2386.3,1702.5 2382.2,1693.1 2377.2,1683.7 C2372.2,1674.3 2364.2,1663.1 2361.3,1655.5 C2358.4,1647.9 2358.9,1643.8 2359.5,1637.9 C2360.1,1632.0 2361.9,1626.8 2364.8,1620.3 C2367.8,1613.8 2372.8,1606.2 2377.2,1599.2 C2381.6,1592.2 2386.8,1585.0 2391.2,1578.0 C2395.6,1571.0 2400.7,1564.0 2403.6,1556.9 C2406.5,1549.9 2408.0,1542.8 2408.9,1535.7 C2409.8,1528.7 2410.1,1521.6 2408.9,1514.6 C2407.7,1507.6 2404.0,1500.5 2401.9,1493.5 C2399.8,1486.5 2396.5,1479.3 2396.5,1472.3 C2396.5,1465.2 2399.2,1458.2 2401.9,1451.2 C2404.6,1444.2 2409.1,1436.5 2412.4,1430.0 C2415.7,1423.5 2420.3,1417.7 2421.9,1412.4 C2423.5,1407.1 2421.9,1407.7 2421.9,1398.3 C2421.9,1388.9 2421.9,1363.1 2421.9,1356.1 Z" fill="none" stroke="#b07fc3" stroke-width="9.2" stroke-linejoin="bevel"/>
<rect x="2366.3" y="1623.85" width="19.0" height="10.5" rx="1.5" fill="#000"/>
<rect x="2404.5" y="1623.85" width="26.6" height="10.5" rx="1.5" fill="#000"/>
<rect x="2450.3" y="1623.85" width="25.2" height="10.5" rx="1.5" fill="#000"/>
<line x1="2415.6" y1="1552.7" x2="2429.7" y2="1552.7" stroke="#b07fc3" stroke-width="3.2" stroke-dasharray="4 9"/>
<line x1="2385.6" y1="1680.9" x2="2459.6" y2="1680.9" stroke="#b07fc3" stroke-width="3.2" stroke-dasharray="4 9"/>
<line x1="503.5" y1="949.6" x2="948" y2="949.6" stroke="#000" stroke-width="4.5" />
<text x="613.5" y="909" font-family="'Liberation Sans', sans-serif" font-size="60" text-anchor="start"><tspan font-style="italic">P</tspan>=0.012</text>
<line x1="1243.3" y1="949.6" x2="1678.8" y2="949.6" stroke="#000" stroke-width="4.5" />
<text x="1349.5" y="908.5" font-family="'Liberation Sans', sans-serif" font-size="60" text-anchor="start"><tspan font-style="italic">P</tspan>=0.001</text>
<line x1="1460.7" y1="1083" x2="1678.8" y2="1083" stroke="#000" stroke-width="4.5" />
<text x="1457.5" y="1042.3" font-family="'Liberation Sans', sans-serif" font-size="60" text-anchor="start"><tspan font-style="italic">P</tspan>=0.008</text>
<line x1="2020.4" y1="953" x2="2440" y2="953" stroke="#000" stroke-width="4.5" />
<text x="2136.5" y="913.5" font-family="'Liberation Sans', sans-serif" font-size="60" text-anchor="start"><tspan font-style="italic">P</tspan>=0.01</text>
<line x1="2219.8" y1="1092" x2="2440" y2="1092" stroke="#000" stroke-width="4.5" />
<text x="2234.5" y="1050.6" font-family="'Liberation Sans', sans-serif" font-size="60" text-anchor="start"><tspan font-style="italic">P</tspan>=0.02</text>
<rect x="387.5" y="681" width="2171.0" height="1270" fill="none" stroke="#000" stroke-width="13.5"/>
<line x1="1099.5" y1="681" x2="1099.5" y2="1951" stroke="#000" stroke-width="7.5" />
<line x1="1848" y1="681" x2="1848" y2="1951" stroke="#000" stroke-width="7.5" />
<line x1="346" y1="681.0" x2="387.5" y2="681.0" stroke="#000" stroke-width="13.5" />
<text x="336.5" y="706.0" font-family="'Liberation Sans', sans-serif" font-size="70" font-weight="bold" text-anchor="end" >60000</text>
<line x1="346" y1="1043.6666666666665" x2="387.5" y2="1043.6666666666665" stroke="#000" stroke-width="13.5" />
<text x="336.5" y="1068.6666666666665" font-family="'Liberation Sans', sans-serif" font-size="70" font-weight="bold" text-anchor="end" >40000</text>
<line x1="346" y1="1406.3333333333333" x2="387.5" y2="1406.3333333333333" stroke="#000" stroke-width="13.5" />
<text x="336.5" y="1431.3333333333333" font-family="'Liberation Sans', sans-serif" font-size="70" font-weight="bold" text-anchor="end" >20000</text>
<line x1="346" y1="1769.0" x2="387.5" y2="1769.0" stroke="#000" stroke-width="13.5" />
<text x="336.5" y="1794.0" font-family="'Liberation Sans', sans-serif" font-size="70" font-weight="bold" text-anchor="end" >0</text>
<line x1="521" y1="1951" x2="521" y2="1991" stroke="#000" stroke-width="12.5" />
<text x="521" y="2065" font-family="'Liberation Sans', sans-serif" font-size="70" font-weight="bold" text-anchor="middle" >1/1</text>
<line x1="725.5" y1="1951" x2="725.5" y2="1991" stroke="#000" stroke-width="12.5" />
<text x="725.5" y="2065" font-family="'Liberation Sans', sans-serif" font-size="70" font-weight="bold" text-anchor="middle" >1/2</text>
<line x1="928" y1="1951" x2="928" y2="1991" stroke="#000" stroke-width="12.5" />
<text x="928" y="2065" font-family="'Liberation Sans', sans-serif" font-size="70" font-weight="bold" text-anchor="middle" >2/2</text>
<line x1="1268.7" y1="1951" x2="1268.7" y2="1991" stroke="#000" stroke-width="12.5" />
<text x="1268.7" y="2065" font-family="'Liberation Sans', sans-serif" font-size="70" font-weight="bold" text-anchor="middle" >1/1</text>
<line x1="1471.5" y1="1951" x2="1471.5" y2="1991" stroke="#000" stroke-width="12.5" />
<text x="1471.5" y="2065" font-family="'Liberation Sans', sans-serif" font-size="70" font-weight="bold" text-anchor="middle" >1/2</text>
<line x1="1673.4" y1="1951" x2="1673.4" y2="1991" stroke="#000" stroke-width="12.5" />
<text x="1673.4" y="2065" font-family="'Liberation Sans', sans-serif" font-size="70" font-weight="bold" text-anchor="middle" >2/2</text>
<line x1="2012.5" y1="1951" x2="2012.5" y2="1991" stroke="#000" stroke-width="12.5" />
<text x="2012.5" y="2065" font-family="'Liberation Sans', sans-serif" font-size="70" font-weight="bold" text-anchor="middle" >1/1</text>
<line x1="2217.8" y1="1951" x2="2217.8" y2="1991" stroke="#000" stroke-width="12.5" />
<text x="2217.8" y="2065" font-family="'Liberation Sans', sans-serif" font-size="70" font-weight="bold" text-anchor="middle" >1/2</text>
<line x1="2421.4" y1="1951" x2="2421.4" y2="1991" stroke="#000" stroke-width="12.5" />
<text x="2421.4" y="2065" font-family="'Liberation Sans', sans-serif" font-size="70" font-weight="bold" text-anchor="middle" >2/2</text>
<text x="1474" y="2178.5" font-family="'Liberation Serif', serif" font-size="70.5" font-weight="bold" text-anchor="middle" >Genotype</text>
<text x="0" y="0" font-family="'Liberation Serif', serif" font-size="69" font-weight="bold" text-anchor="middle" letter-spacing="1.4" transform="translate(93,1314) rotate(-90)">NDV Titers</text>
<rect x="2583.75" y="1074.75" width="89.5" height="37.5" fill="none" stroke="#898fcf" stroke-width="8.5"/>
<rect x="2583.75" y="1195.25" width="89.5" height="37.5" fill="none" stroke="#137e97" stroke-width="8.5"/>
<rect x="2583.75" y="1315.25" width="89.5" height="40.0" fill="none" stroke="#b07fc3" stroke-width="8.5"/>
<text x="2732" y="1119" font-family="'Liberation Serif', serif" font-size="79" font-weight="normal" text-anchor="start" >SNP 3</text>
<text x="2732" y="1240" font-family="'Liberation Serif', serif" font-size="79" font-weight="normal" text-anchor="start" >SNP 9</text>
<text x="2732" y="1361" font-family="'Liberation Serif', serif" font-size="79" font-weight="normal" text-anchor="start" >SNP 19</text>
<line x1="372" y1="3640" x2="1515" y2="3640" stroke="#000" stroke-width="6.8" stroke-linecap="round" stroke-dasharray="0.01 27.509999999999998"/>
<path d="M456.7,3244.0 C456.7,3287.5 456.4,3460.3 456.7,3505.0 C456.9,3549.7 457.9,3507.5 458.2,3512.0 C458.4,3516.5 458.2,3527.5 458.2,3532.0 C458.2,3536.5 457.4,3535.5 458.2,3539.0 C459.0,3542.5 461.7,3547.8 463.2,3553.0 C464.7,3558.2 466.0,3564.3 467.4,3570.0 C468.8,3575.7 469.8,3581.7 471.7,3586.9 C473.6,3592.1 475.6,3596.4 478.7,3601.1 C481.8,3605.8 486.2,3611.0 490.0,3615.2 C493.8,3619.4 498.2,3623.2 501.3,3626.5 C504.4,3629.8 507.2,3632.9 508.4,3635.0 C509.6,3637.1 512.2,3637.3 508.4,3639.2 C504.6,3641.1 492.3,3644.2 485.7,3646.3 C479.1,3648.4 473.1,3650.0 468.7,3651.9 C464.2,3653.8 461.0,3656.2 459.0,3657.6 C457.0,3658.9 457.1,3658.6 456.7,3660.0 C456.3,3661.4 456.7,3665.0 456.7,3666.0 C456.7,3665.0 457.1,3661.4 456.7,3660.0 C456.3,3658.6 456.4,3658.9 454.4,3657.6 C452.4,3656.2 449.1,3653.8 444.7,3651.9 C440.2,3650.0 434.3,3648.4 427.7,3646.3 C421.1,3644.2 408.8,3641.1 405.0,3639.2 C401.2,3637.3 403.8,3637.1 405.0,3635.0 C406.2,3632.9 409.0,3629.8 412.1,3626.5 C415.2,3623.2 419.6,3619.4 423.4,3615.2 C427.2,3611.0 431.6,3605.8 434.7,3601.1 C437.8,3596.4 439.8,3592.1 441.7,3586.9 C443.6,3581.7 444.6,3575.7 446.0,3570.0 C447.4,3564.3 448.7,3558.2 450.2,3553.0 C451.7,3547.8 454.4,3542.5 455.2,3539.0 C456.0,3535.5 455.2,3536.5 455.2,3532.0 C455.2,3527.5 454.9,3516.5 455.2,3512.0 C455.4,3507.5 456.4,3549.7 456.7,3505.0 C456.9,3460.3 456.7,3287.5 456.7,3244.0 Z" fill="none" stroke="#898fcf" stroke-width="9.2" stroke-linejoin="bevel"/>
<rect x="432.0" y="3605.75" width="19.0" height="10.5" rx="1.5" fill="#000"/>
<rect x="470.2" y="3605.75" width="12.8" height="10.5" rx="1.5" fill="#000"/>
<line x1="418" y1="3630.7" x2="494" y2="3630.7" stroke="#898fcf" stroke-width="3.2" stroke-dasharray="4 9"/>
<path d="M625.2,3134.0 C625.2,3138.3 625.0,3154.0 625.2,3160.0 C625.4,3166.0 626.0,3163.3 626.2,3170.0 C626.4,3176.7 626.4,3193.3 626.2,3200.0 C626.0,3206.7 625.4,3194.2 625.2,3210.0 C625.0,3225.8 625.0,3280.0 625.2,3295.0 C625.4,3310.0 626.2,3293.8 626.4,3300.0 C626.6,3306.2 626.6,3325.8 626.4,3332.0 C626.2,3338.2 625.4,3322.0 625.2,3337.0 C625.0,3352.0 625.0,3407.2 625.2,3422.0 C625.4,3436.8 626.2,3420.5 626.4,3426.0 C626.6,3431.5 626.4,3449.0 626.4,3455.0 C626.4,3461.0 625.9,3459.2 626.2,3462.0 C626.5,3464.8 627.6,3469.0 628.2,3472.0 C628.8,3475.0 629.5,3476.7 629.8,3480.0 C630.1,3483.3 630.4,3488.8 629.8,3492.0 C629.2,3495.2 625.8,3495.3 626.2,3499.0 C626.6,3502.7 630.0,3509.0 632.2,3514.0 C634.4,3519.0 636.4,3522.8 639.2,3529.0 C642.0,3535.2 646.9,3544.2 648.9,3551.0 C650.9,3557.8 650.1,3564.0 651.2,3570.0 C652.3,3576.0 653.5,3581.2 655.4,3586.9 C657.3,3592.6 659.9,3598.2 662.5,3603.9 C665.1,3609.6 668.4,3615.6 671.0,3620.8 C673.6,3626.0 677.1,3631.7 678.0,3635.0 C678.9,3638.3 680.8,3638.2 676.6,3640.6 C672.4,3642.9 659.9,3646.3 652.6,3649.1 C645.3,3651.9 637.4,3655.7 632.8,3657.6 C628.2,3659.5 626.5,3658.5 625.2,3660.4 C623.9,3662.3 625.2,3667.5 625.2,3668.9 C625.2,3667.5 626.5,3662.3 625.2,3660.4 C623.9,3658.5 622.2,3659.5 617.6,3657.6 C613.0,3655.7 605.1,3651.9 597.8,3649.1 C590.5,3646.3 578.0,3642.9 573.8,3640.6 C569.6,3638.2 571.5,3638.3 572.4,3635.0 C573.3,3631.7 576.8,3626.0 579.4,3620.8 C582.0,3615.6 585.3,3609.6 587.9,3603.9 C590.5,3598.2 593.1,3592.6 595.0,3586.9 C596.9,3581.2 598.1,3576.0 599.2,3570.0 C600.3,3564.0 599.5,3557.8 601.5,3551.0 C603.5,3544.2 608.4,3535.2 611.2,3529.0 C614.0,3522.8 616.0,3519.0 618.2,3514.0 C620.4,3509.0 623.8,3502.7 624.2,3499.0 C624.6,3495.3 621.2,3495.2 620.6,3492.0 C620.0,3488.8 620.3,3483.3 620.6,3480.0 C620.9,3476.7 621.6,3475.0 622.2,3472.0 C622.8,3469.0 623.9,3464.8 624.2,3462.0 C624.5,3459.2 624.0,3461.0 624.0,3455.0 C624.0,3449.0 623.8,3431.5 624.0,3426.0 C624.2,3420.5 625.0,3436.8 625.2,3422.0 C625.4,3407.2 625.4,3352.0 625.2,3337.0 C625.0,3322.0 624.2,3338.2 624.0,3332.0 C623.8,3325.8 623.8,3306.2 624.0,3300.0 C624.2,3293.8 625.0,3310.0 625.2,3295.0 C625.4,3280.0 625.4,3225.8 625.2,3210.0 C625.0,3194.2 624.4,3206.7 624.2,3200.0 C624.0,3193.3 624.0,3176.7 624.2,3170.0 C624.4,3163.3 625.0,3166.0 625.2,3160.0 C625.4,3154.0 625.2,3138.3 625.2,3134.0 Z" fill="none" stroke="#898fcf" stroke-width="9.2" stroke-linejoin="bevel"/>
<rect x="592.0" y="3594.35" width="19.0" height="10.5" rx="1.5" fill="#000"/>
<rect x="630.2" y="3594.35" width="25.2" height="10.5" rx="1.5" fill="#000"/>
<line x1="611.6" y1="3562" x2="642.7" y2="3562" stroke="#898fcf" stroke-width="3.2" stroke-dasharray="4 9"/>
<line x1="589" y1="3625" x2="664" y2="3625" stroke="#898fcf" stroke-width="3.2" stroke-dasharray="4 9"/>
<path d="M793.8,3498.0 C793.8,3500.6 792.9,3509.0 793.8,3513.5 C794.7,3518.0 797.8,3520.6 799.4,3524.8 C801.0,3529.0 802.5,3534.2 803.7,3538.9 C804.9,3543.6 806.7,3548.8 806.5,3553.0 C806.3,3557.2 803.9,3560.5 802.3,3564.3 C800.6,3568.1 796.4,3571.8 796.6,3575.6 C796.8,3579.4 801.3,3583.1 803.7,3586.9 C806.1,3590.7 810.1,3594.4 810.8,3598.2 C811.5,3602.0 807.7,3606.2 807.9,3609.5 C808.1,3612.8 808.4,3615.2 812.2,3618.0 C816.0,3620.8 824.9,3623.7 830.5,3626.5 C836.1,3629.3 843.7,3632.7 846.1,3635.0 C848.5,3637.3 849.2,3638.2 844.7,3640.6 C840.2,3642.9 826.7,3646.3 819.2,3649.1 C811.6,3651.9 803.6,3655.7 799.4,3657.6 C795.2,3659.5 794.7,3657.8 793.8,3660.4 C792.9,3663.0 793.8,3671.0 793.8,3673.1 C793.8,3671.0 794.7,3663.0 793.8,3660.4 C792.9,3657.8 792.4,3659.5 788.2,3657.6 C784.0,3655.7 775.9,3651.9 768.4,3649.1 C760.9,3646.3 747.4,3642.9 742.9,3640.6 C738.4,3638.2 739.1,3637.3 741.5,3635.0 C743.9,3632.7 751.4,3629.3 757.1,3626.5 C762.7,3623.7 771.6,3620.8 775.4,3618.0 C779.2,3615.2 779.5,3612.8 779.7,3609.5 C779.9,3606.2 776.1,3602.0 776.8,3598.2 C777.5,3594.4 781.5,3590.7 783.9,3586.9 C786.3,3583.1 790.8,3579.4 791.0,3575.6 C791.2,3571.8 786.9,3568.1 785.3,3564.3 C783.6,3560.5 781.3,3557.2 781.1,3553.0 C780.9,3548.8 782.7,3543.6 783.9,3538.9 C785.1,3534.2 786.5,3529.0 788.2,3524.8 C789.8,3520.6 792.9,3518.0 793.8,3513.5 C794.7,3509.0 793.8,3500.6 793.8,3498.0 Z" fill="none" stroke="#898fcf" stroke-width="9.2" stroke-linejoin="bevel"/>
<rect x="770.0" y="3628.75" width="8.0" height="10.5" rx="1.5" fill="#000"/>
<rect x="792.0" y="3628.75" width="26.0" height="10.5" rx="1.5" fill="#000"/>
<line x1="771" y1="3638" x2="833" y2="3638" stroke="#898fcf" stroke-width="3.2" stroke-dasharray="4 9"/>
<path d="M1075.5,3244.0 C1075.5,3287.5 1075.2,3460.3 1075.5,3505.0 C1075.8,3549.7 1076.8,3507.5 1077.0,3512.0 C1077.2,3516.5 1077.0,3527.5 1077.0,3532.0 C1077.0,3536.5 1076.2,3535.5 1077.0,3539.0 C1077.8,3542.5 1080.5,3547.8 1082.0,3553.0 C1083.5,3558.2 1084.8,3564.3 1086.2,3570.0 C1087.6,3575.7 1088.6,3581.7 1090.5,3586.9 C1092.4,3592.1 1094.5,3596.4 1097.5,3601.1 C1100.5,3605.8 1105.0,3611.0 1108.8,3615.2 C1112.6,3619.4 1117.0,3623.2 1120.1,3626.5 C1123.2,3629.8 1126.0,3632.9 1127.2,3635.0 C1128.4,3637.1 1131.0,3637.3 1127.2,3639.2 C1123.4,3641.1 1111.1,3644.2 1104.5,3646.3 C1097.9,3648.4 1092.0,3650.0 1087.5,3651.9 C1083.0,3653.8 1079.8,3656.2 1077.8,3657.6 C1075.8,3658.9 1075.9,3658.6 1075.5,3660.0 C1075.1,3661.4 1075.5,3665.0 1075.5,3666.0 C1075.5,3665.0 1075.9,3661.4 1075.5,3660.0 C1075.1,3658.6 1075.2,3658.9 1073.2,3657.6 C1071.2,3656.2 1068.0,3653.8 1063.5,3651.9 C1059.0,3650.0 1053.1,3648.4 1046.5,3646.3 C1039.9,3644.2 1027.6,3641.1 1023.8,3639.2 C1020.0,3637.3 1022.6,3637.1 1023.8,3635.0 C1025.0,3632.9 1027.8,3629.8 1030.9,3626.5 C1034.0,3623.2 1038.4,3619.4 1042.2,3615.2 C1046.0,3611.0 1050.5,3605.8 1053.5,3601.1 C1056.5,3596.4 1058.6,3592.1 1060.5,3586.9 C1062.4,3581.7 1063.4,3575.7 1064.8,3570.0 C1066.2,3564.3 1067.5,3558.2 1069.0,3553.0 C1070.5,3547.8 1073.2,3542.5 1074.0,3539.0 C1074.8,3535.5 1074.0,3536.5 1074.0,3532.0 C1074.0,3527.5 1073.8,3516.5 1074.0,3512.0 C1074.2,3507.5 1075.2,3549.7 1075.5,3505.0 C1075.8,3460.3 1075.5,3287.5 1075.5,3244.0 Z" fill="none" stroke="#137e97" stroke-width="9.2" stroke-linejoin="bevel"/>
<rect x="1049.0" y="3606.55" width="19.0" height="10.5" rx="1.5" fill="#000"/>
<rect x="1087.2" y="3606.55" width="15.8" height="10.5" rx="1.5" fill="#000"/>
<line x1="1038" y1="3631.6" x2="1114" y2="3631.6" stroke="#137e97" stroke-width="3.2" stroke-dasharray="4 9"/>
<path d="M1244.2,3134.0 C1244.2,3138.3 1244.0,3154.0 1244.2,3160.0 C1244.4,3166.0 1245.0,3163.3 1245.2,3170.0 C1245.4,3176.7 1245.4,3193.3 1245.2,3200.0 C1245.0,3206.7 1244.4,3194.2 1244.2,3210.0 C1244.0,3225.8 1244.0,3280.0 1244.2,3295.0 C1244.4,3310.0 1245.2,3293.8 1245.4,3300.0 C1245.6,3306.2 1245.6,3325.8 1245.4,3332.0 C1245.2,3338.2 1244.4,3322.0 1244.2,3337.0 C1244.0,3352.0 1244.0,3407.2 1244.2,3422.0 C1244.4,3436.8 1245.2,3420.5 1245.4,3426.0 C1245.6,3431.5 1245.4,3449.0 1245.4,3455.0 C1245.4,3461.0 1244.9,3459.2 1245.2,3462.0 C1245.5,3464.8 1246.6,3469.0 1247.2,3472.0 C1247.8,3475.0 1248.5,3476.7 1248.8,3480.0 C1249.1,3483.3 1249.4,3488.8 1248.8,3492.0 C1248.2,3495.2 1244.8,3495.3 1245.2,3499.0 C1245.6,3502.7 1249.0,3509.0 1251.2,3514.0 C1253.4,3519.0 1255.4,3522.8 1258.2,3529.0 C1261.0,3535.2 1265.9,3544.2 1267.9,3551.0 C1269.9,3557.8 1269.1,3564.0 1270.2,3570.0 C1271.3,3576.0 1272.5,3581.2 1274.4,3586.9 C1276.3,3592.6 1278.9,3598.2 1281.5,3603.9 C1284.1,3609.6 1287.4,3615.6 1290.0,3620.8 C1292.6,3626.0 1296.1,3631.7 1297.0,3635.0 C1297.9,3638.3 1299.8,3638.2 1295.6,3640.6 C1291.4,3642.9 1278.9,3646.3 1271.6,3649.1 C1264.3,3651.9 1256.4,3655.7 1251.8,3657.6 C1247.2,3659.5 1245.5,3658.5 1244.2,3660.4 C1242.9,3662.3 1244.2,3667.5 1244.2,3668.9 C1244.2,3667.5 1245.5,3662.3 1244.2,3660.4 C1242.9,3658.5 1241.2,3659.5 1236.6,3657.6 C1232.0,3655.7 1224.1,3651.9 1216.8,3649.1 C1209.5,3646.3 1197.0,3642.9 1192.8,3640.6 C1188.6,3638.2 1190.5,3638.3 1191.4,3635.0 C1192.3,3631.7 1195.8,3626.0 1198.4,3620.8 C1201.0,3615.6 1204.3,3609.6 1206.9,3603.9 C1209.5,3598.2 1212.1,3592.6 1214.0,3586.9 C1215.9,3581.2 1217.1,3576.0 1218.2,3570.0 C1219.3,3564.0 1218.5,3557.8 1220.5,3551.0 C1222.5,3544.2 1227.4,3535.2 1230.2,3529.0 C1233.0,3522.8 1235.0,3519.0 1237.2,3514.0 C1239.4,3509.0 1242.8,3502.7 1243.2,3499.0 C1243.6,3495.3 1240.2,3495.2 1239.6,3492.0 C1239.0,3488.8 1239.3,3483.3 1239.6,3480.0 C1239.9,3476.7 1240.6,3475.0 1241.2,3472.0 C1241.8,3469.0 1242.9,3464.8 1243.2,3462.0 C1243.5,3459.2 1243.0,3461.0 1243.0,3455.0 C1243.0,3449.0 1242.8,3431.5 1243.0,3426.0 C1243.2,3420.5 1244.0,3436.8 1244.2,3422.0 C1244.4,3407.2 1244.4,3352.0 1244.2,3337.0 C1244.0,3322.0 1243.2,3338.2 1243.0,3332.0 C1242.8,3325.8 1242.8,3306.2 1243.0,3300.0 C1243.2,3293.8 1244.0,3310.0 1244.2,3295.0 C1244.4,3280.0 1244.4,3225.8 1244.2,3210.0 C1244.0,3194.2 1243.4,3206.7 1243.2,3200.0 C1243.0,3193.3 1243.0,3176.7 1243.2,3170.0 C1243.4,3163.3 1244.0,3166.0 1244.2,3160.0 C1244.4,3154.0 1244.2,3138.3 1244.2,3134.0 Z" fill="none" stroke="#137e97" stroke-width="9.2" stroke-linejoin="bevel"/>
<rect x="1213.0" y="3594.35" width="19.0" height="10.5" rx="1.5" fill="#000"/>
<rect x="1251.2" y="3594.35" width="23.8" height="10.5" rx="1.5" fill="#000"/>
<line x1="1231" y1="3561" x2="1264" y2="3561" stroke="#137e97" stroke-width="3.2" stroke-dasharray="4 9"/>
<line x1="1211" y1="3625" x2="1285" y2="3625" stroke="#137e97" stroke-width="3.2" stroke-dasharray="4 9"/>
<path d="M1412.3,3498.0 C1412.3,3500.6 1411.4,3509.0 1412.3,3513.5 C1413.2,3518.0 1416.2,3520.6 1417.9,3524.8 C1419.5,3529.0 1421.0,3534.2 1422.2,3538.9 C1423.4,3543.6 1425.2,3548.8 1425.0,3553.0 C1424.8,3557.2 1422.5,3560.5 1420.8,3564.3 C1419.1,3568.1 1414.9,3571.8 1415.1,3575.6 C1415.3,3579.4 1419.8,3583.1 1422.2,3586.9 C1424.6,3590.7 1428.6,3594.4 1429.3,3598.2 C1430.0,3602.0 1426.2,3606.2 1426.4,3609.5 C1426.6,3612.8 1426.9,3615.2 1430.7,3618.0 C1434.5,3620.8 1443.3,3623.7 1449.0,3626.5 C1454.7,3629.3 1462.2,3632.7 1464.6,3635.0 C1467.0,3637.3 1467.7,3638.2 1463.2,3640.6 C1458.7,3642.9 1445.2,3646.3 1437.7,3649.1 C1430.2,3651.9 1422.1,3655.7 1417.9,3657.6 C1413.7,3659.5 1413.2,3657.8 1412.3,3660.4 C1411.4,3663.0 1412.3,3671.0 1412.3,3673.1 C1412.3,3671.0 1413.2,3663.0 1412.3,3660.4 C1411.4,3657.8 1410.9,3659.5 1406.7,3657.6 C1402.5,3655.7 1394.4,3651.9 1386.9,3649.1 C1379.3,3646.3 1365.9,3642.9 1361.4,3640.6 C1356.9,3638.2 1357.6,3637.3 1360.0,3635.0 C1362.4,3632.7 1369.9,3629.3 1375.6,3626.5 C1381.2,3623.7 1390.1,3620.8 1393.9,3618.0 C1397.7,3615.2 1398.0,3612.8 1398.2,3609.5 C1398.4,3606.2 1394.6,3602.0 1395.3,3598.2 C1396.0,3594.4 1400.0,3590.7 1402.4,3586.9 C1404.8,3583.1 1409.3,3579.4 1409.5,3575.6 C1409.7,3571.8 1405.5,3568.1 1403.8,3564.3 C1402.1,3560.5 1399.8,3557.2 1399.6,3553.0 C1399.4,3548.8 1401.2,3543.6 1402.4,3538.9 C1403.6,3534.2 1405.0,3529.0 1406.7,3524.8 C1408.4,3520.6 1411.4,3518.0 1412.3,3513.5 C1413.2,3509.0 1412.3,3500.6 1412.3,3498.0 Z" fill="none" stroke="#137e97" stroke-width="9.2" stroke-linejoin="bevel"/>
<rect x="1383.0" y="3624.75" width="8.0" height="10.5" rx="1.5" fill="#000"/>
<rect x="1412.0" y="3624.75" width="26.6" height="10.5" rx="1.5" fill="#000"/>
<line x1="1383" y1="3638" x2="1456" y2="3638" stroke="#137e97" stroke-width="3.2" stroke-dasharray="4 9"/>
<line x1="424.6" y1="2871.3" x2="642.5" y2="2871.3" stroke="#000" stroke-width="4.5" />
<text x="422.5" y="2830" font-family="'Liberation Sans', sans-serif" font-size="60" text-anchor="start"><tspan font-style="italic">P</tspan>=0.016</text>
<line x1="621" y1="3005" x2="819.7" y2="3005" stroke="#000" stroke-width="4.5" />
<text x="609.5" y="2963.7" font-family="'Liberation Sans', sans-serif" font-size="60" text-anchor="start"><tspan font-style="italic">P</tspan>=0.022</text>
<line x1="1044.4" y1="2876.8" x2="1234" y2="2876.8" stroke="#000" stroke-width="4.5" />
<text x="1026.5" y="2836" font-family="'Liberation Sans', sans-serif" font-size="60" text-anchor="start"><tspan font-style="italic">P</tspan>=0.012</text>
<line x1="1234" y1="2988.3" x2="1430.2" y2="2988.3" stroke="#000" stroke-width="4.5" />
<text x="1236.5" y="2947" font-family="'Liberation Sans', sans-serif" font-size="60" text-anchor="start"><tspan font-style="italic">P</tspan>=0.03</text>
<rect x="343.6" y="2624.5" width="1181.0" height="1182.5" fill="none" stroke="#000" stroke-width="13.5"/>
<line x1="935.6" y1="2624.5" x2="935.6" y2="3807" stroke="#000" stroke-width="7.5" />
<line x1="304" y1="2624.5" x2="343.6" y2="2624.5" stroke="#000" stroke-width="13.5" />
<text x="294" y="2649.5" font-family="'Liberation Sans', sans-serif" font-size="70" font-weight="bold" text-anchor="end" >3000</text>
<line x1="304" y1="2963" x2="343.6" y2="2963" stroke="#000" stroke-width="13.5" />
<text x="294" y="2988" font-family="'Liberation Sans', sans-serif" font-size="70" font-weight="bold" text-anchor="end" >2000</text>
<line x1="304" y1="3301" x2="343.6" y2="3301" stroke="#000" stroke-width="13.5" />
<text x="294" y="3326" font-family="'Liberation Sans', sans-serif" font-size="70" font-weight="bold" text-anchor="end" >1000</text>
<line x1="304" y1="3640" x2="343.6" y2="3640" stroke="#000" stroke-width="13.5" />
<text x="294" y="3665" font-family="'Liberation Sans', sans-serif" font-size="70" font-weight="bold" text-anchor="end" >0</text>
<line x1="455.7" y1="3807" x2="455.7" y2="3848.5" stroke="#000" stroke-width="12.5" />
<text x="455.7" y="3923" font-family="'Liberation Sans', sans-serif" font-size="70" font-weight="bold" text-anchor="middle" >1/1</text>
<line x1="624.8" y1="3807" x2="624.8" y2="3848.5" stroke="#000" stroke-width="12.5" />
<text x="624.8" y="3923" font-family="'Liberation Sans', sans-serif" font-size="70" font-weight="bold" text-anchor="middle" >1/2</text>
<line x1="793.5" y1="3807" x2="793.5" y2="3848.5" stroke="#000" stroke-width="12.5" />
<text x="793.5" y="3923" font-family="'Liberation Sans', sans-serif" font-size="70" font-weight="bold" text-anchor="middle" >2/2</text>
<line x1="1074.3" y1="3807" x2="1074.3" y2="3848.5" stroke="#000" stroke-width="12.5" />
<text x="1074.3" y="3923" font-family="'Liberation Sans', sans-serif" font-size="70" font-weight="bold" text-anchor="middle" >1/1</text>
<line x1="1244.2" y1="3807" x2="1244.2" y2="3848.5" stroke="#000" stroke-width="12.5" />
<text x="1244.2" y="3923" font-family="'Liberation Sans', sans-serif" font-size="70" font-weight="bold" text-anchor="middle" >1/2</text>
<line x1="1413.3" y1="3807" x2="1413.3" y2="3848.5" stroke="#000" stroke-width="12.5" />
<text x="1413.3" y="3923" font-family="'Liberation Sans', sans-serif" font-size="70" font-weight="bold" text-anchor="middle" >2/2</text>
<text x="936" y="4040.5" font-family="'Liberation Serif', serif" font-size="70.5" font-weight="bold" text-anchor="middle" >Genotype</text>
<text x="0" y="0" font-family="'Liberation Serif', serif" font-size="69" font-weight="bold" text-anchor="middle" letter-spacing="1.4" transform="translate(95,3217) rotate(-90)">ALV Titers</text>
<rect x="1556.25" y="3056.55" width="87.9" height="35.5" fill="none" stroke="#898fcf" stroke-width="8.5"/>
<rect x="1556.25" y="3182.65" width="87.9" height="34.5" fill="none" stroke="#137e97" stroke-width="8.5"/>
<text x="1703" y="3101" font-family="'Liberation Serif', serif" font-size="79" font-weight="normal" text-anchor="start" >SNP 15</text>
<text x="1703" y="3226" font-family="'Liberation Serif', serif" font-size="79" font-weight="normal" text-anchor="start" >SNP 21</text>
<line x1="2455" y1="3640" x2="3172" y2="3640" stroke="#000" stroke-width="6.8" stroke-linecap="round" stroke-dasharray="0.01 27.509999999999998"/>
<path d="M2578.3,3134.0 C2578.3,3138.3 2577.9,3152.3 2578.3,3160.0 C2578.7,3167.7 2580.2,3174.0 2580.8,3180.0 C2581.4,3186.0 2581.2,3191.8 2581.8,3196.0 C2582.4,3200.2 2583.9,3199.0 2584.3,3205.0 C2584.7,3211.0 2584.6,3225.3 2584.3,3232.0 C2584.1,3238.7 2583.0,3240.7 2582.8,3245.0 C2582.6,3249.3 2582.1,3253.5 2583.1,3258.0 C2584.1,3262.5 2587.7,3266.7 2588.8,3272.0 C2590.0,3277.3 2590.2,3283.7 2590.0,3290.0 C2589.8,3296.3 2588.5,3303.7 2587.3,3310.0 C2586.2,3316.3 2584.2,3323.0 2583.1,3328.0 C2582.0,3333.0 2581.4,3336.8 2580.8,3340.0 C2580.2,3343.2 2578.4,3343.8 2579.8,3347.0 C2581.2,3350.2 2585.2,3354.3 2589.3,3359.0 C2593.4,3363.7 2599.4,3369.4 2604.3,3375.0 C2609.2,3380.6 2613.6,3385.5 2619.0,3392.3 C2624.4,3399.1 2632.0,3407.8 2636.5,3415.6 C2641.0,3423.3 2644.3,3432.4 2646.2,3438.8 C2648.1,3445.2 2648.4,3447.8 2648.1,3454.3 C2647.8,3460.8 2645.5,3469.8 2644.2,3477.6 C2642.9,3485.4 2641.9,3493.8 2640.3,3500.9 C2638.7,3508.0 2638.7,3513.8 2634.5,3520.3 C2630.3,3526.8 2621.9,3533.2 2615.1,3539.7 C2608.3,3546.2 2599.1,3553.9 2593.8,3559.1 C2588.5,3564.3 2585.3,3566.4 2583.3,3570.7 C2581.3,3575.0 2582.1,3577.6 2581.8,3585.0 C2581.6,3592.4 2582.2,3608.3 2581.8,3615.0 C2581.4,3621.7 2579.9,3620.8 2579.3,3625.0 C2578.7,3629.2 2578.5,3637.9 2578.3,3640.5 C2578.1,3637.9 2577.9,3629.2 2577.3,3625.0 C2576.7,3620.8 2575.2,3621.7 2574.8,3615.0 C2574.4,3608.3 2575.1,3592.4 2574.8,3585.0 C2574.6,3577.6 2575.3,3575.0 2573.3,3570.7 C2571.3,3566.4 2568.1,3564.3 2562.8,3559.1 C2557.5,3553.9 2548.3,3546.2 2541.5,3539.7 C2534.7,3533.2 2526.3,3526.8 2522.1,3520.3 C2517.9,3513.8 2517.9,3508.0 2516.3,3500.9 C2514.7,3493.8 2513.7,3485.4 2512.4,3477.6 C2511.1,3469.8 2508.8,3460.8 2508.5,3454.3 C2508.2,3447.8 2508.5,3445.2 2510.4,3438.8 C2512.3,3432.4 2515.6,3423.3 2520.1,3415.6 C2524.6,3407.8 2532.2,3399.1 2537.6,3392.3 C2543.0,3385.5 2547.4,3380.6 2552.3,3375.0 C2557.2,3369.4 2563.2,3363.7 2567.3,3359.0 C2571.4,3354.3 2575.4,3350.2 2576.8,3347.0 C2578.2,3343.8 2576.4,3343.2 2575.8,3340.0 C2575.2,3336.8 2574.6,3333.0 2573.5,3328.0 C2572.4,3323.0 2570.5,3316.3 2569.3,3310.0 C2568.2,3303.7 2566.9,3296.3 2566.6,3290.0 C2566.4,3283.7 2566.7,3277.3 2567.8,3272.0 C2569.0,3266.7 2572.5,3262.5 2573.5,3258.0 C2574.5,3253.5 2574.0,3249.3 2573.8,3245.0 C2573.6,3240.7 2572.6,3238.7 2572.3,3232.0 C2572.1,3225.3 2571.9,3211.0 2572.3,3205.0 C2572.7,3199.0 2574.2,3200.2 2574.8,3196.0 C2575.4,3191.8 2575.2,3186.0 2575.8,3180.0 C2576.4,3174.0 2577.9,3167.7 2578.3,3160.0 C2578.7,3152.3 2578.3,3138.3 2578.3,3134.0 Z" fill="none" stroke="#b07fc3" stroke-width="9.2" stroke-linejoin="bevel"/>
<rect x="2514.3" y="3448.35" width="19.0" height="10.5" rx="1.5" fill="#000"/>
<rect x="2552.5" y="3448.35" width="26.6" height="10.5" rx="1.5" fill="#000"/>
<rect x="2598.3" y="3448.35" width="26.6" height="10.5" rx="1.5" fill="#000"/>
<line x1="2535.6" y1="3406.6" x2="2622.9" y2="3406.6" stroke="#b07fc3" stroke-width="3.2" stroke-dasharray="4 9"/>
<line x1="2529.8" y1="3495" x2="2630.6" y2="3495" stroke="#b07fc3" stroke-width="3.2" stroke-dasharray="4 9"/>
<path d="M2804.4,3033.0 C2804.4,3037.5 2804.3,3048.8 2804.4,3060.0 C2804.5,3071.2 2804.7,3085.0 2804.9,3100.0 C2805.1,3115.0 2804.8,3140.0 2805.4,3150.0 C2806.0,3160.0 2808.1,3145.8 2808.6,3160.0 C2809.1,3174.2 2809.0,3220.8 2808.6,3235.0 C2808.2,3249.2 2806.6,3241.7 2806.4,3245.0 C2806.2,3248.3 2806.6,3252.2 2807.4,3255.0 C2808.2,3257.8 2810.6,3249.8 2811.2,3262.0 C2811.8,3274.2 2810.8,3315.8 2811.2,3328.0 C2811.6,3340.2 2810.9,3331.3 2813.4,3335.0 C2815.9,3338.7 2823.4,3346.2 2826.4,3350.0 C2829.4,3353.8 2830.2,3352.2 2831.4,3358.0 C2832.7,3363.8 2831.2,3377.5 2833.9,3384.5 C2836.6,3391.5 2843.9,3394.9 2847.8,3400.1 C2851.7,3405.3 2855.6,3407.8 2857.5,3415.6 C2859.4,3423.3 2857.9,3437.5 2859.5,3446.6 C2861.1,3455.7 2864.5,3462.8 2867.2,3469.9 C2869.9,3477.0 2875.9,3482.9 2875.9,3489.3 C2875.9,3495.8 2871.9,3501.5 2867.2,3508.6 C2862.5,3515.7 2854.3,3524.1 2847.8,3531.9 C2841.3,3539.7 2833.6,3548.8 2828.4,3555.2 C2823.2,3561.5 2819.6,3565.9 2816.4,3570.0 C2813.2,3574.1 2811.2,3577.0 2809.4,3580.0 C2807.7,3583.0 2806.7,3585.3 2805.9,3588.0 C2805.1,3590.7 2804.7,3579.5 2804.4,3596.0 C2804.2,3612.5 2804.4,3671.8 2804.4,3687.0 C2804.4,3671.8 2804.7,3612.5 2804.4,3596.0 C2804.2,3579.5 2803.7,3590.7 2802.9,3588.0 C2802.1,3585.3 2801.2,3583.0 2799.4,3580.0 C2797.7,3577.0 2795.6,3574.1 2792.4,3570.0 C2789.2,3565.9 2785.6,3561.5 2780.4,3555.2 C2775.2,3548.8 2767.5,3539.7 2761.0,3531.9 C2754.5,3524.1 2746.3,3515.7 2741.6,3508.6 C2736.9,3501.5 2732.9,3495.8 2732.9,3489.3 C2732.9,3482.9 2738.9,3477.0 2741.6,3469.9 C2744.3,3462.8 2747.7,3455.7 2749.3,3446.6 C2750.9,3437.5 2749.4,3423.3 2751.3,3415.6 C2753.2,3407.8 2757.1,3405.3 2761.0,3400.1 C2764.9,3394.9 2772.2,3391.5 2774.9,3384.5 C2777.6,3377.5 2776.2,3363.8 2777.4,3358.0 C2778.7,3352.2 2779.4,3353.8 2782.4,3350.0 C2785.4,3346.2 2792.9,3338.7 2795.4,3335.0 C2797.9,3331.3 2797.2,3340.2 2797.6,3328.0 C2798.0,3315.8 2797.0,3274.2 2797.6,3262.0 C2798.2,3249.8 2800.6,3257.8 2801.4,3255.0 C2802.2,3252.2 2802.6,3248.3 2802.4,3245.0 C2802.2,3241.7 2800.6,3249.2 2800.2,3235.0 C2799.8,3220.8 2799.7,3174.2 2800.2,3160.0 C2800.7,3145.8 2802.8,3160.0 2803.4,3150.0 C2804.0,3140.0 2803.7,3115.0 2803.9,3100.0 C2804.1,3085.0 2804.3,3071.2 2804.4,3060.0 C2804.5,3048.8 2804.4,3037.5 2804.4,3033.0 Z" fill="none" stroke="#b07fc3" stroke-width="9.2" stroke-linejoin="bevel"/>
<rect x="2752.8" y="3452.25" width="19.0" height="10.5" rx="1.5" fill="#000"/>
<rect x="2791.0" y="3452.25" width="26.6" height="10.5" rx="1.5" fill="#000"/>
<rect x="2836.8" y="3452.25" width="20.7" height="10.5" rx="1.5" fill="#000"/>
<line x1="2764.4" y1="3406.6" x2="2847.8" y2="3406.6" stroke="#b07fc3" stroke-width="3.2" stroke-dasharray="4 9"/>
<line x1="2747" y1="3497.8" x2="2867.2" y2="3497.8" stroke="#b07fc3" stroke-width="3.2" stroke-dasharray="4 9"/>
<path d="M3030.1,3182.9 C3030.1,3194.1 3029.8,3234.7 3030.1,3250.0 C3030.3,3265.3 3031.3,3265.8 3031.6,3275.0 C3031.8,3284.2 3031.8,3297.1 3031.6,3305.0 C3031.3,3312.9 3028.7,3317.0 3030.1,3322.5 C3031.5,3328.0 3036.2,3331.5 3039.8,3338.0 C3043.3,3344.5 3048.2,3354.8 3051.4,3361.3 C3054.6,3367.8 3057.9,3370.3 3059.2,3376.8 C3060.5,3383.3 3058.9,3393.6 3059.2,3400.1 C3059.5,3406.6 3057.2,3410.4 3061.1,3415.6 C3065.0,3420.8 3077.0,3425.9 3082.5,3431.1 C3088.0,3436.3 3094.1,3441.4 3094.1,3446.6 C3094.1,3451.8 3084.8,3456.3 3082.5,3462.1 C3080.2,3467.9 3078.2,3475.7 3080.5,3481.5 C3082.8,3487.3 3092.4,3492.2 3096.0,3497.0 C3099.6,3501.8 3103.1,3506.1 3101.8,3510.6 C3100.5,3515.1 3094.4,3518.1 3088.3,3524.2 C3082.2,3530.3 3071.5,3540.9 3065.0,3547.4 C3058.5,3553.9 3053.7,3558.3 3049.5,3562.9 C3045.3,3567.5 3042.7,3571.3 3040.1,3575.0 C3037.5,3578.7 3035.6,3581.8 3034.1,3585.0 C3032.6,3588.2 3031.8,3591.4 3031.1,3593.9 C3030.4,3596.4 3030.3,3590.9 3030.1,3600.0 C3029.9,3609.1 3030.1,3640.2 3030.1,3648.2 C3030.1,3640.2 3030.3,3609.1 3030.1,3600.0 C3029.9,3590.9 3029.8,3596.4 3029.1,3593.9 C3028.4,3591.4 3027.6,3588.2 3026.1,3585.0 C3024.6,3581.8 3022.7,3578.7 3020.1,3575.0 C3017.5,3571.3 3014.8,3567.5 3010.7,3562.9 C3006.5,3558.3 3001.7,3553.9 2995.2,3547.4 C2988.7,3540.9 2978.0,3530.3 2971.9,3524.2 C2965.8,3518.1 2959.7,3515.1 2958.4,3510.6 C2957.1,3506.1 2960.6,3501.8 2964.2,3497.0 C2967.8,3492.2 2977.4,3487.3 2979.7,3481.5 C2981.9,3475.7 2980.0,3467.9 2977.7,3462.1 C2975.4,3456.3 2966.1,3451.8 2966.1,3446.6 C2966.1,3441.4 2972.2,3436.3 2977.7,3431.1 C2983.2,3425.9 2995.2,3420.8 2999.1,3415.6 C3003.0,3410.4 3000.7,3406.6 3001.0,3400.1 C3001.3,3393.6 2999.7,3383.3 3001.0,3376.8 C3002.3,3370.3 3005.6,3367.8 3008.8,3361.3 C3012.0,3354.8 3016.8,3344.5 3020.4,3338.0 C3024.0,3331.5 3028.7,3328.0 3030.1,3322.5 C3031.5,3317.0 3028.8,3312.9 3028.6,3305.0 C3028.3,3297.1 3028.3,3284.2 3028.6,3275.0 C3028.8,3265.8 3029.8,3265.3 3030.1,3250.0 C3030.3,3234.7 3030.1,3194.1 3030.1,3182.9 Z" fill="none" stroke="#b07fc3" stroke-width="9.2" stroke-linejoin="bevel"/>
<rect x="2983.5" y="3460.75" width="19.0" height="10.5" rx="1.5" fill="#000"/>
<rect x="3021.7" y="3460.75" width="26.6" height="10.5" rx="1.5" fill="#000"/>
<rect x="3067.5" y="3460.75" width="9.1" height="10.5" rx="1.5" fill="#000"/>
<line x1="3001" y1="3425.3" x2="3059" y2="3425.3" stroke="#b07fc3" stroke-width="3.2" stroke-dasharray="4 9"/>
<line x1="2971.9" y1="3509.4" x2="3086.3" y2="3509.4" stroke="#b07fc3" stroke-width="3.2" stroke-dasharray="4 9"/>
<line x1="2589.8" y1="2851.8" x2="3061.8" y2="2851.8" stroke="#000" stroke-width="4.5" />
<text x="2714.5" y="2812" font-family="'Liberation Sans', sans-serif" font-size="60" text-anchor="start"><tspan font-style="italic">P</tspan>=0.018</text>
<line x1="2805.9" y1="3001.4" x2="3061.8" y2="3001.4" stroke="#000" stroke-width="4.5" />
<text x="2821.5" y="2961.5" font-family="'Liberation Sans', sans-serif" font-size="60" text-anchor="start"><tspan font-style="italic">P</tspan>=0.015</text>
<rect x="2428.3" y="2606" width="752.6999999999998" height="1207" fill="none" stroke="#000" stroke-width="13.5"/>
<line x1="2389" y1="2606" x2="2428.3" y2="2606" stroke="#000" stroke-width="13.5" />
<text x="2379.5" y="2631" font-family="'Liberation Sans', sans-serif" font-size="70" font-weight="bold" text-anchor="end" >30000</text>
<line x1="2389" y1="2951" x2="2428.3" y2="2951" stroke="#000" stroke-width="13.5" />
<text x="2379.5" y="2976" font-family="'Liberation Sans', sans-serif" font-size="70" font-weight="bold" text-anchor="end" >20000</text>
<line x1="2389" y1="3295.5" x2="2428.3" y2="3295.5" stroke="#000" stroke-width="13.5" />
<text x="2379.5" y="3320.5" font-family="'Liberation Sans', sans-serif" font-size="70" font-weight="bold" text-anchor="end" >10000</text>
<line x1="2389" y1="3640" x2="2428.3" y2="3640" stroke="#000" stroke-width="13.5" />
<text x="2379.5" y="3665" font-family="'Liberation Sans', sans-serif" font-size="70" font-weight="bold" text-anchor="end" >0</text>
<line x1="2577.2" y1="3813" x2="2577.2" y2="3853" stroke="#000" stroke-width="12.5" />
<text x="2577.2" y="3925" font-family="'Liberation Sans', sans-serif" font-size="70" font-weight="bold" text-anchor="middle" >1/1</text>
<line x1="2803.2" y1="3813" x2="2803.2" y2="3853" stroke="#000" stroke-width="12.5" />
<text x="2803.2" y="3925" font-family="'Liberation Sans', sans-serif" font-size="70" font-weight="bold" text-anchor="middle" >1/2</text>
<line x1="3029.3" y1="3813" x2="3029.3" y2="3853" stroke="#000" stroke-width="12.5" />
<text x="3029.3" y="3925" font-family="'Liberation Sans', sans-serif" font-size="70" font-weight="bold" text-anchor="middle" >2/2</text>
<text x="2808" y="4039" font-family="'Liberation Serif', serif" font-size="70.5" font-weight="bold" text-anchor="middle" >Genotype</text>
<text x="0" y="0" font-family="'Liberation Serif', serif" font-size="69" font-weight="bold" text-anchor="middle" letter-spacing="1.4" transform="translate(2142,3207) rotate(-90)">IBD Titers</text>
<rect x="3202.65" y="2982.45" width="87.5" height="37.7" fill="none" stroke="#b07fc3" stroke-width="8.5"/>
<text x="3351" y="3026" font-family="'Liberation Serif', serif" font-size="79" font-weight="normal" text-anchor="start" >SNP 16</text>
</svg>
</body></html>
